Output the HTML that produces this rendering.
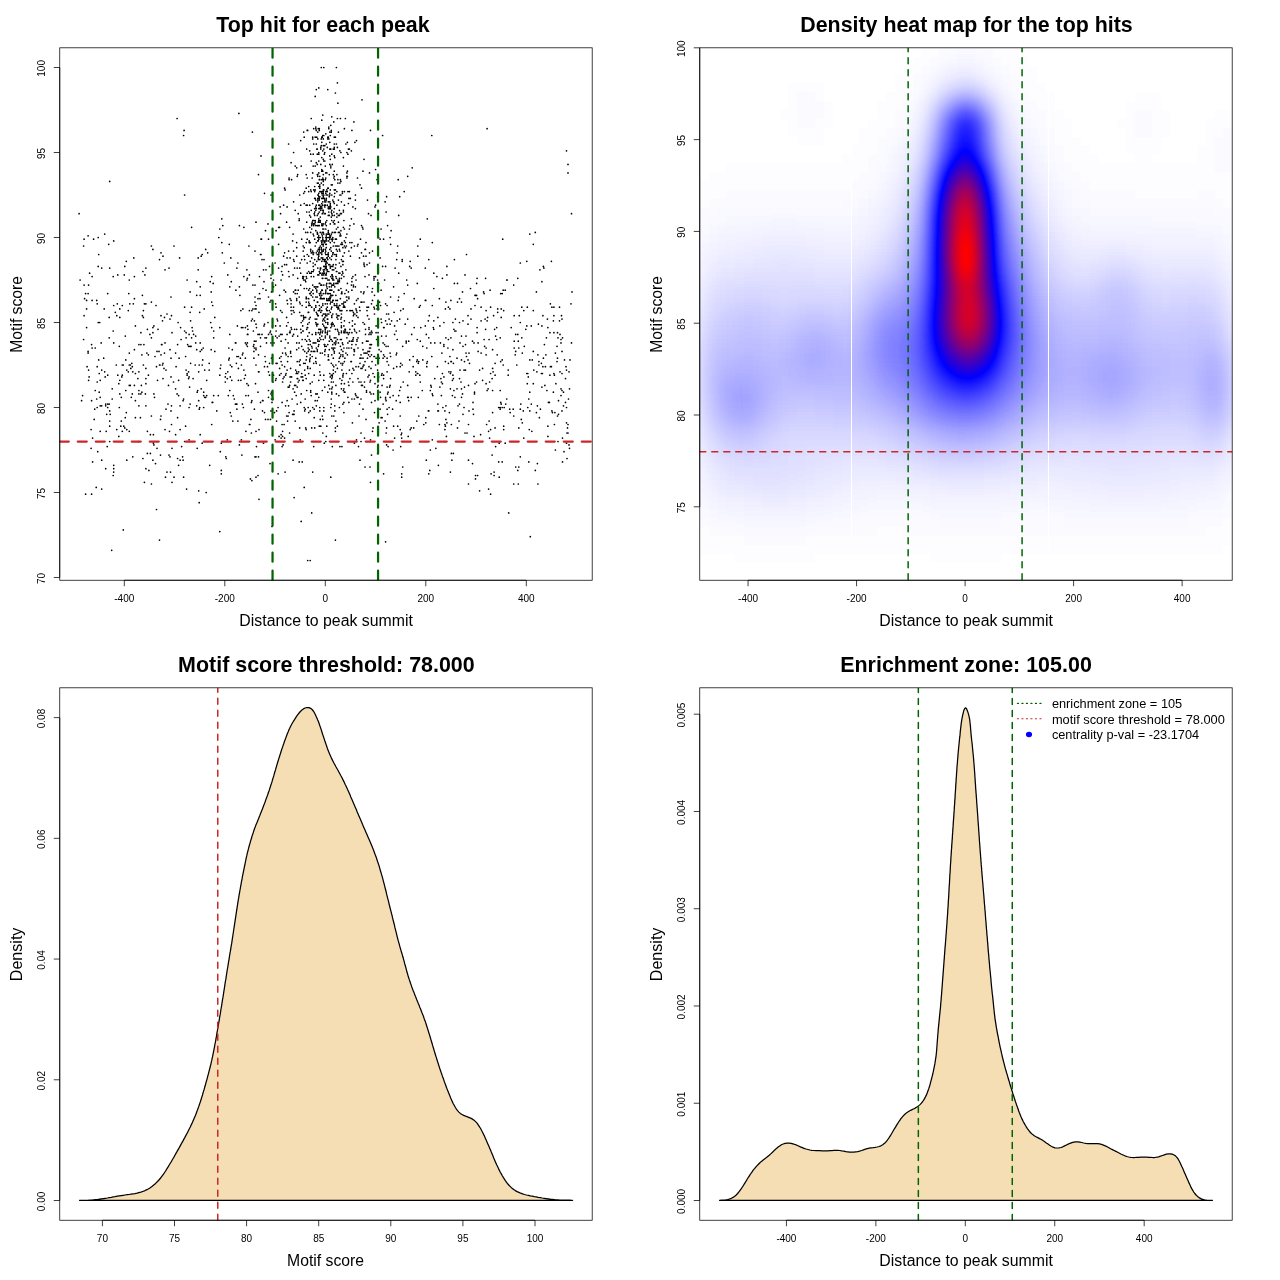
<!DOCTYPE html>
<html><head><meta charset="utf-8"><title>Motif enrichment plots</title>
<style>html,body{margin:0;padding:0;background:#fff}svg{display:block}text{font-family:"Liberation Sans",Arial,Helvetica,sans-serif;fill:#000}.t{font-size:21.4px;font-weight:bold;text-anchor:middle}.l{font-size:15.8px;text-anchor:middle}.k{font-size:10px;text-anchor:middle}.g{font-size:12.8px}.b{fill:none;stroke:#000;stroke-width:.75}.gd{fill:none;stroke:#006400;stroke-width:1.5;stroke-dasharray:6 6;stroke-linecap:round}.rd{fill:none;stroke:#CD2626;stroke-width:1.5;stroke-dasharray:6 6;stroke-linecap:round}.gD{fill:none;stroke:#006400;stroke-width:2.25;stroke-dasharray:9 9;stroke-linecap:round}.rD{fill:none;stroke:#CD2626;stroke-width:2.25;stroke-dasharray:9 9;stroke-linecap:round}.w{fill:#F5DEB3;stroke:none}.c{fill:none;stroke:#000;stroke-width:1.25;stroke-linejoin:round}</style></head><body>
<svg width="1280" height="1280" viewBox="0 0 1280 1280">
<rect width="1280" height="1280" fill="#fff"/>
<g clip-path="url(#hc)">
<path d="M145.9 405.8h0M443.9 322.5h0M308.7 298.7h0M498.7 461.9h0M396.2 400.7h0M360 184.8h0M91.1 429.6h0M285.6 405.8h0M321.8 169.5h0M309.7 293.6h0M203.2 348h0M315.2 319.1h0M378.6 283.4h0M310.2 368.4h0M531.3 404.1h0M229.3 244.3h0M187.1 280h0M327.3 319.1h0M313.2 234.1h0M249.4 310.6h0M334.3 137.2h0M390.1 385.4h0M367 310.6h0M531.3 325.9h0M253.9 351.4h0M461.5 302.1h0M121.8 376.9h0M261.5 239.2h0M280.6 213.7h0M171.5 405.8h0M525.8 329.3h0M362 368.4h0M439.4 424.5h0M329.8 201.8h0M325.3 336.1h0M375 400.7h0M332.8 280h0M289.6 385.4h0M314.7 198.4h0M331.3 382h0M255 456.8h0M168.5 385.4h0M285.6 353.1h0M245.4 327.6h0M329.3 196.7h0M338.9 273.2h0M328.3 354.8h0M477.6 475.5h0M418.3 397.3h0M322.8 115.1h0M147.4 329.3h0M332.3 274.9h0M300.2 439.8h0M520.3 456.8h0M353.9 223.9h0M317.8 302.1h0M372 361.6h0M422.8 359.9h0M295.2 421.1h0M474.5 393.9h0M209.7 465.3h0M317.3 225.6h0M433.8 329.3h0M502.2 407.5h0M342.4 261.3h0M297.2 387.1h0M153.4 434.7h0M425.3 300.4h0M328.3 201.8h0M472.5 463.6h0M335.4 239.2h0M341.4 388.8h0M270.5 419.4h0M401.7 473.8h0M375.6 365h0M335.9 264.7h0M210.7 322.5h0M326.8 220.5h0M333.3 382h0M328.3 359.9h0M188.6 371.8h0M327.8 138.9h0M258.5 174.6h0M361 354.8h0M258 334.4h0M309.7 359.9h0M133.8 257.9h0M564 451.7h0M106.2 431.3h0M310.2 341.2h0M305.2 375.2h0M334.8 223.9h0M304.7 259.6h0M357 312.3h0M333.8 283.4h0M369 274.9h0M330.8 247.7h0M331.3 184.8h0M96.7 399h0M502.2 293.6h0M549.4 402.4h0M152.9 332.7h0M335.4 246h0M317.8 201.8h0M318.3 254.5h0M371.5 455.1h0M562 351.4h0M248.4 395.6h0M315.2 96.4h0M91.6 400.7h0M269.5 375.2h0M368 351.4h0M446.4 436.4h0M341.4 213.7h0M330.3 290.2h0M411.2 397.3h0M363 322.5h0M326.8 426.2h0M346.4 297h0M339.9 378.6h0M220.3 451.7h0M310.2 410.9h0M533.3 310.6h0M338.9 290.2h0M376.1 358.2h0M340.9 288.5h0M157 351.4h0M334.8 405.8h0M328.8 359.9h0M296.7 342.9h0M329.8 193.3h0M334.8 410.9h0M352.4 422.8h0M377.1 308.9h0M313.2 154.2h0M377.6 196.7h0M288.6 271.5h0M467 433h0M502.7 239.2h0M311.2 276.6h0M81.6 400.7h0M349.9 329.3h0M202.2 443.2h0M84.1 239.2h0M313.2 266.4h0M329.8 239.2h0M327.3 254.5h0M295.7 370.1h0M321.8 244.3h0M549.9 375.2h0M520.8 404.1h0M370.5 344.6h0M349.4 322.5h0M426.8 366.7h0M477.6 298.7h0M324.3 298.7h0M378.6 376.9h0M320.8 293.6h0M369.5 351.4h0M520.3 263h0M299.7 365h0M318.3 240.9h0M357 339.5h0M349.9 310.6h0M332.8 280h0M286.6 317.4h0M138.9 371.8h0M304.2 137.2h0M135.4 417.7h0M383.1 358.2h0M251.9 310.6h0M502.2 461.9h0M528.8 399h0M322.8 240.9h0M303.2 246h0M338.4 290.2h0M319.3 198.4h0M331.8 256.2h0M316.3 363.3h0M433.8 288.5h0M342.9 354.8h0M329.8 257.9h0M140.9 344.6h0M361 399h0M320.8 210.3h0M326.3 274.9h0M335.9 259.6h0M331.3 308.9h0M83.6 246h0M341.4 332.7h0M315.8 307.2h0M281.1 434.7h0M503.7 310.6h0M340.9 235.8h0M198.2 269.8h0M314.7 239.2h0M325.8 322.5h0M330.3 208.6h0M558.5 414.3h0M311.2 210.3h0M316.3 348h0M489.1 421.1h0M475 295.3h0M325.3 331h0M292.6 336.1h0M318.8 220.5h0M505.7 404.1h0M332.8 295.3h0M331.3 339.5h0M326.8 315.7h0M459.5 322.5h0M190.1 404.1h0M323.3 319.1h0M336.9 217.1h0M355.4 393.9h0M537.9 484h0M122.3 431.3h0M158 329.3h0M329.8 142.3h0M569.5 448.3h0M344.4 128.7h0M325.8 314h0M314.2 409.2h0M191.6 337.8h0M145.9 383.7h0M326.3 268.1h0M259 312.3h0M123.3 365h0M442.4 373.5h0M398.7 215.4h0M333.3 252.8h0M268.5 334.4h0M332.3 341.2h0M324.3 261.3h0M323.3 145.7h0M445.4 426.2h0M358 397.3h0M296.7 349.7h0M481.1 320.8h0M259 429.6h0M558 441.5h0M476.6 382h0M246.4 344.6h0M343.4 261.3h0M329.8 297h0M152.9 460.2h0M256.5 446.6h0M213.7 331h0M386.1 212h0M321.8 191.6h0M354.4 349.7h0M316.3 205.2h0M317.3 183.1h0M352.9 341.2h0M454.4 259.6h0M363 349.7h0M385.6 399h0M339.9 305.5h0M379.1 422.8h0M454.4 283.4h0M329.3 237.5h0M325.8 191.6h0M343.9 332.7h0M523.3 410.9h0M326.3 198.4h0M340.9 213.7h0M316.8 149.1h0M291.1 300.4h0M333.3 280h0M351.4 348h0M322.3 390.5h0M332.8 365h0M330.3 266.4h0M387.1 358.2h0M341.9 274.9h0M277.6 320.8h0M376.1 332.7h0M317.3 149.1h0M441.4 395.6h0M316.3 324.2h0M407.7 397.3h0M325.8 178h0M333.3 324.2h0M342.9 356.5h0M153.9 393.9h0M296.7 300.4h0M383.1 342.9h0M498.7 407.5h0M567 458.5h0M443.9 344.6h0M354.4 303.8h0M303.7 317.4h0M338.4 200.1h0M318.8 193.3h0M289.1 178h0M326.8 240.9h0M272.5 325.9h0M487.6 317.4h0M334.3 342.9h0M434.8 342.9h0M430.3 450h0M318.3 240.9h0M332.3 375.2h0M183.1 460.2h0M453.9 329.3h0M282.1 266.4h0M259.5 334.4h0M333.3 349.7h0M213.2 283.4h0M228.3 395.6h0M468.5 484h0M92.1 300.4h0M367.5 315.7h0M332.3 215.4h0M397.2 339.5h0M333.3 246h0M383.6 473.8h0M92.6 461.9h0M450.9 300.4h0M452.4 380.3h0M568 433h0M566.5 407.5h0M447.9 348h0M258.5 354.8h0M191.6 307.2h0M318.8 205.2h0M379.1 349.7h0M366.5 390.5h0M97.2 303.8h0M508.7 512.9h0M143.9 344.6h0M409.7 359.9h0M308.2 344.6h0M499.2 443.2h0M400.7 310.6h0M341.9 293.6h0M327.3 257.9h0M318.8 161h0M313.2 351.4h0M353.4 285.1h0M515.7 334.4h0M225.3 382h0M336.9 205.2h0M402.2 259.6h0M336.9 174.6h0M317.3 232.4h0M313.7 189.9h0M105.7 405.8h0M499.2 477.2h0M464.5 387.1h0M305.2 339.5h0M117.8 274.9h0M327.3 334.4h0M337.9 319.1h0M332.8 254.5h0M116.8 429.6h0M322.3 278.3h0M569 444.9h0M495.1 375.2h0M385.6 266.4h0M302.7 276.6h0M329.3 341.2h0M503.2 365h0M340.9 230.7h0M290.6 368.4h0M226.3 458.5h0M383.6 375.2h0M105.7 468.7h0M378.6 237.5h0M520.3 409.2h0M321.8 142.3h0M533.3 383.7h0M299.2 361.6h0M571 303.8h0M351.4 361.6h0M311.7 346.3h0M106.7 414.3h0M335.4 344.6h0M438.4 465.3h0M323.8 380.3h0M329.8 195h0M176.1 366.7h0M465.5 370.1h0M332.8 278.3h0M287.1 206.9h0M131.8 363.3h0M119.3 346.3h0M330.3 268.1h0M390.6 244.3h0M200.2 295.3h0M474.5 392.2h0M138.9 390.5h0M260.5 254.5h0M313.7 269.8h0M333.8 201.8h0M319.3 247.7h0M319.8 337.8h0M105.7 404.1h0M304.2 203.5h0M319.8 273.2h0M376.6 305.5h0M134.4 276.6h0M177.6 344.6h0M88.1 353.1h0M343.9 305.5h0M425.3 325.9h0M333.8 269.8h0M377.1 179.7h0M312.2 222.2h0M310.2 344.6h0M334.8 348h0M323.3 184.8h0M266.5 342.9h0M332.3 240.9h0M250.9 419.4h0M113.2 331h0M547.4 319.1h0M325.8 237.5h0M331.8 210.3h0M331.3 399h0M335.9 295.3h0M320.8 291.9h0M273 399h0M191.6 227.3h0M356.5 310.6h0M261 155.9h0M562 390.5h0M161 315.7h0M333.3 358.2h0M327.3 288.5h0M299.2 297h0M327.8 319.1h0M379.1 358.2h0M322.8 320.8h0M331.8 348h0M312.7 203.5h0M291.6 329.3h0M511.2 327.6h0M227.8 371.8h0M343.4 373.5h0M317.3 164.4h0M300.2 359.9h0M318.3 213.7h0M314.2 300.4h0M328.3 137.2h0M311.2 395.6h0M317.3 174.6h0M372.5 251.1h0M343.4 307.2h0M332.3 269.8h0M409.7 266.4h0M351.9 332.7h0M295.7 290.2h0M163 378.6h0M145.9 468.7h0M247.4 278.3h0M420.8 327.6h0M323.3 196.7h0M536.9 371.8h0M326.3 234.1h0M317.8 132.1h0M315.8 200.1h0M347.9 154.2h0M357 397.3h0M356 395.6h0M137.9 378.6h0M256 349.7h0M319.8 410.9h0M183.6 399h0M113.7 472.1h0M340.9 181.4h0M232.3 349.7h0M484.1 293.6h0M320.8 331h0M322.8 259.6h0M383.6 239.2h0M443.9 346.3h0M317.3 314h0M314.2 417.7h0M396.7 366.7h0M275.6 380.3h0M365 361.6h0M360 358.2h0M336.9 305.5h0M370 356.5h0M557.5 358.2h0M325.8 229h0M370.5 482.3h0M294.1 497.6h0M281.1 438.1h0M329.3 215.4h0M235.9 290.2h0M364 264.7h0M323.8 161h0M364.5 382h0M284.6 188.2h0M122.3 375.2h0M304.7 317.4h0M442.4 278.3h0M113.7 240.9h0M452.9 375.2h0M237.4 325.9h0M358.5 446.6h0M116.3 365h0M335.4 137.2h0M318.8 196.7h0M334.3 303.8h0M338.9 246h0M323.3 198.4h0M340.4 356.5h0M327.8 137.2h0M356.5 332.7h0M347.9 397.3h0M353.4 315.7h0M271 300.4h0M446.9 274.9h0M281.1 280h0M393.1 450h0M503.2 290.2h0M328.3 188.2h0M129.3 280h0M300.7 140.6h0M316.8 319.1h0M345.9 237.5h0M272 402.4h0M325.8 201.8h0M282.1 334.4h0M322.8 210.3h0M245.4 358.2h0M344.9 293.6h0M256 222.2h0M169 268.1h0M88.1 293.6h0M321.3 145.7h0M121.3 421.1h0M331.8 416h0M326.8 310.6h0M332.3 164.4h0M374 276.6h0M445.4 361.6h0M473.5 414.3h0M349.4 332.7h0M331.8 325.9h0M180.6 327.6h0M475.5 295.3h0M145.9 368.4h0M321.8 208.6h0M159.5 365h0M387.6 414.3h0M365.5 353.1h0M337.9 179.7h0M380.6 397.3h0M393.6 368.4h0M319.8 184.8h0M339.4 353.1h0M313.2 223.9h0M332.3 446.6h0M327.3 205.2h0M284.1 376.9h0M125.8 390.5h0M314.7 259.6h0M351.9 130.4h0M323.3 159.3h0M201.2 256.2h0M311.2 191.6h0M329.8 132.1h0M340.9 310.6h0M135.4 400.7h0M333.3 222.2h0M313.2 342.9h0M228.8 359.9h0M162.5 320.8h0M241.9 455.1h0M167 472.1h0M560 371.8h0M328.3 300.4h0M326.8 257.9h0M311.2 161h0M327.8 234.1h0M297.7 174.6h0M329.8 290.2h0M364 263h0M308.7 302.1h0M249.9 424.5h0M150.4 434.7h0M325.8 254.5h0M295.7 385.4h0M322.8 244.3h0M335.4 329.3h0M206.2 492.5h0M378.6 308.9h0M140.9 332.7h0M124.8 427.9h0M335.4 371.8h0M315.8 361.6h0M282.6 353.1h0M313.7 269.8h0M561 395.6h0M172 332.7h0M171 297h0M322.8 171.2h0M294.1 410.9h0M397.7 426.2h0M450.4 388.8h0M88.6 380.3h0M218.3 395.6h0M413.7 427.9h0M310.2 383.7h0M303.2 380.3h0M323.8 325.9h0M314.2 286.8h0M329.3 349.7h0M138.9 393.9h0M445.9 419.4h0M450.9 371.8h0M336.4 393.9h0M341.4 325.9h0M571.5 213.7h0M411.2 268.1h0M328.8 385.4h0M492.1 455.1h0M129.3 431.3h0M247.4 334.4h0M325.3 349.7h0M259.5 276.6h0M568 424.5h0M373 373.5h0M343.9 276.6h0M344.4 307.2h0M119.8 317.4h0M317.8 198.4h0M109.7 410.9h0M289.1 387.1h0M311.7 307.2h0M306.2 307.2h0M322.3 137.2h0M312.7 138.9h0M306.2 302.1h0M313.2 254.5h0M339.9 273.2h0M563.5 405.8h0M321.8 298.7h0M287.6 361.6h0M515.7 351.4h0M154.5 397.3h0M186.6 489.1h0M334.3 220.5h0M98.2 266.4h0M163 256.2h0M129.3 365h0M561 339.5h0M294.6 392.2h0M320.3 298.7h0M318.3 225.6h0M296.7 247.7h0M291.6 179.7h0M319.8 371.8h0M319.3 271.5h0M442.9 407.5h0M328.8 314h0M289.1 412.6h0M115.3 312.3h0M294.1 312.3h0M320.3 353.1h0M396.7 353.1h0M101.7 268.1h0M341.4 325.9h0M408.7 341.2h0M536.4 412.6h0M284.6 366.7h0M306.7 222.2h0M316.3 144h0M348.9 348h0M368.5 213.7h0M331.3 212h0M370 382h0M238.4 368.4h0M324.3 273.2h0M297.2 361.6h0M291.1 162.7h0M353.9 349.7h0M307.2 263h0M320.3 269.8h0M97.2 382h0M334.3 215.4h0M238.4 356.5h0M274.5 412.6h0M354.4 443.2h0M192.6 331h0M572 291.9h0M508.2 370.1h0M387.6 225.6h0M304.7 370.1h0M315.2 222.2h0M256 456.8h0M415.8 371.8h0M385.6 397.3h0M338.9 332.7h0M522.3 353.1h0M274 342.9h0M312.7 220.5h0M287.6 303.8h0M439.4 298.7h0M356 344.6h0M318.3 237.5h0M254.4 320.8h0M428.8 259.6h0M308.7 191.6h0M398.7 297h0M189.1 334.4h0M493.1 371.8h0M323.3 193.3h0M321.8 252.8h0M325.3 240.9h0M157.5 380.3h0M293.6 334.4h0M315.8 206.9h0M331.3 375.2h0M330.8 235.8h0M388.6 314h0M420.3 382h0M518.8 348h0M457.5 427.9h0M329.3 280h0M333.3 264.7h0M101.7 460.2h0M418.3 363.3h0M293.6 251.1h0M129.3 385.4h0M336.4 314h0M360.5 239.2h0M481.1 307.2h0M513.2 409.2h0M326.8 195h0M198.2 257.9h0M293.6 307.2h0M374 356.5h0M336.9 303.8h0M465.5 344.6h0M166 409.2h0M500.2 409.2h0M313.7 446.6h0M317.3 393.9h0M320.3 375.2h0M316.8 290.2h0M309.2 303.8h0M361 302.1h0M322.3 232.4h0M521.3 419.4h0M332.8 344.6h0M393.6 426.2h0M213.7 337.8h0M337.4 426.2h0M386.1 433h0M110.2 414.3h0M351.9 344.6h0M207.7 252.8h0M264.5 366.7h0M304.7 259.6h0M440.9 378.6h0M551.4 366.7h0M324.8 327.6h0M299.7 427.9h0M370 332.7h0M371.5 303.8h0M535.3 232.4h0M92.6 438.1h0M328.8 240.9h0M448.4 307.2h0M145.9 303.8h0M566.5 443.2h0M316.3 208.6h0M371 368.4h0M394.1 312.3h0M386.6 314h0M339.9 195h0M306.7 298.7h0M315.8 127h0M358 378.6h0M347.4 283.4h0M420.3 305.5h0M340.9 319.1h0M271.5 291.9h0M314.2 310.6h0M242.4 354.8h0M315.8 288.5h0M486.6 424.5h0M316.8 325.9h0M270.5 331h0M555.9 383.7h0M344.9 307.2h0M80.1 280h0M308.2 407.5h0M236.4 363.3h0M175.6 434.7h0M346.9 300.4h0M282.1 424.5h0M244.4 378.6h0M341.4 332.7h0M184.6 331h0M225.8 456.8h0M347.4 171.2h0M283.1 378.6h0M330.8 297h0M238.4 380.3h0M327.3 300.4h0M214.8 351.4h0M532.3 359.9h0M414.2 327.6h0M255 302.1h0M398.2 300.4h0M282.6 274.9h0M333.3 370.1h0M94.2 419.4h0M329.8 373.5h0M543.4 358.2h0M255 297h0M340.4 339.5h0M98.7 359.9h0M381.1 417.7h0M337.4 300.4h0M264.5 412.6h0M143.4 317.4h0M271 274.9h0M327.3 293.6h0M408.2 397.3h0M334.3 351.4h0M407.7 176.3h0M459 421.1h0M326.8 278.3h0M280.6 334.4h0M142.4 295.3h0M200.2 342.9h0M189.1 407.5h0M471 308.9h0M91.6 494.2h0M314.7 215.4h0M317.8 240.9h0M369.5 348h0M341.4 314h0M317.8 315.7h0M315.2 137.2h0M435.9 448.3h0M277.1 363.3h0M368 341.2h0M397.7 246h0M300.2 263h0M353.4 337.8h0M144.4 482.3h0M317.8 286.8h0M357 341.2h0M444.9 410.9h0M348.4 291.9h0M289.6 332.7h0M309.7 361.6h0M349.4 370.1h0M331.8 317.4h0M415.8 375.2h0M165 342.9h0M323.3 174.6h0M280.1 325.9h0M333.3 373.5h0M336.9 317.4h0M310.7 189.9h0M338.4 215.4h0M303.2 278.3h0M326.3 200.1h0M363.5 256.2h0M351.9 278.3h0M279.1 336.1h0M558.5 400.7h0M326.3 263h0M284.1 290.2h0M323.8 149.1h0M253.9 358.2h0M323.3 210.3h0M403.2 382h0M321.8 171.2h0M337.4 118.5h0M239.4 444.9h0M367.5 358.2h0M337.9 103.2h0M334.3 149.1h0M246.9 280h0M235.4 404.1h0M490.6 494.2h0M554.4 375.2h0M326.8 172.9h0M332.8 239.2h0M297.7 336.1h0M336.4 254.5h0M324.3 198.4h0M340.9 363.3h0M343.4 212h0M365.5 370.1h0M236.9 356.5h0M181.6 446.6h0M454.9 397.3h0M318.3 310.6h0M518.8 467h0M357 312.3h0M301.2 393.9h0M322.8 257.9h0M100.2 405.8h0M118.8 383.7h0M341.9 370.1h0M343.4 303.8h0M322.8 237.5h0M308.7 256.2h0M264 259.6h0M92.1 276.6h0M320.8 312.3h0M515.2 354.8h0M563.5 392.2h0M309.7 215.4h0M83.6 339.5h0M355.4 286.8h0M256 431.3h0M211.2 349.7h0M161 416h0M308.2 351.4h0M339.4 263h0M383.6 354.8h0M211.7 276.6h0M119.3 407.5h0M161.5 344.6h0M181.1 339.5h0M170 319.1h0M145.9 378.6h0M433.8 273.2h0M355.4 208.6h0M318.8 235.8h0M142.9 458.5h0M327.8 324.2h0M164.5 353.1h0M308.7 305.5h0M468.5 424.5h0M275.1 263h0M489.1 339.5h0M318.8 172.9h0M312.7 472.1h0M109.2 337.8h0M307.7 324.2h0M323.8 229h0M350.4 256.2h0M268.5 390.5h0M338.9 361.6h0M294.1 261.3h0M277.1 337.8h0M448.9 371.8h0M339.9 183.1h0M313.7 223.9h0M324.8 351.4h0M280.6 310.6h0M318.3 183.1h0M312.2 382h0M326.3 195h0M324.8 206.9h0M328.8 264.7h0M352.9 276.6h0M330.8 276.6h0M330.3 312.3h0M336.9 303.8h0M364.5 387.1h0M497.7 308.9h0M327.8 280h0M256 324.2h0M332.8 278.3h0M455.9 331h0M318.8 239.2h0M332.8 266.4h0M276.6 421.1h0M312.7 251.1h0M358.5 366.7h0M249.4 424.5h0M387.1 409.2h0M344.9 358.2h0M116.8 315.7h0M306.7 356.5h0M335.9 385.4h0M310.7 251.1h0M370.5 348h0M333.8 212h0M279.6 375.2h0M321.8 274.9h0M381.1 351.4h0M338.4 222.2h0M239.4 286.8h0M325.3 278.3h0M265.5 419.4h0M380.1 257.9h0M304.7 351.4h0M410.2 261.3h0M334.3 223.9h0M540.4 409.2h0M330.8 477.2h0M261 254.5h0M349.4 149.1h0M355.4 200.1h0M229.8 334.4h0M243.9 227.3h0M370 467h0M523.8 438.1h0M327.3 303.8h0M318.3 315.7h0M265.5 230.7h0M453.4 378.6h0M318.8 329.3h0M370.5 130.4h0M541.4 363.3h0M317.8 341.2h0M268.5 297h0M321.8 120.2h0M306.7 390.5h0M331.8 274.9h0M337.4 339.5h0M561 342.9h0M562 373.5h0M365.5 329.3h0M334.3 305.5h0M544.4 344.6h0M344.4 320.8h0M325.8 290.2h0M315.2 220.5h0M356 308.9h0M402.7 346.3h0M343.4 157.6h0M462.5 393.9h0M341.9 446.6h0M318.3 195h0M204.7 370.1h0M271.5 399h0M187.6 344.6h0M545.9 354.8h0M311.2 351.4h0M299.2 220.5h0M300.2 365h0M537.4 405.8h0M273 382h0M296.7 167.8h0M307.7 336.1h0M196.7 349.7h0M365 249.4h0M334.8 179.7h0M277.1 319.1h0M339.9 235.8h0M88.6 370.1h0M481.1 353.1h0M380.6 305.5h0M225.3 376.9h0M307.7 368.4h0M175.6 388.8h0M387.1 371.8h0M319.3 225.6h0M324.8 242.6h0M171 410.9h0M364 353.1h0M382.6 266.4h0M310.7 217.1h0M338.4 308.9h0M329.8 264.7h0M290.1 376.9h0M342.9 247.7h0M305.7 232.4h0M366.5 341.2h0M171 376.9h0M258.5 456.8h0M325.8 291.9h0M483.6 291.9h0M301.2 521.4h0M324.8 317.4h0M357.5 178h0M562.5 461.9h0M459.5 404.1h0M364.5 438.1h0M287.1 334.4h0M138.9 344.6h0M336.9 213.7h0M401.7 433h0M141.4 385.4h0M333.8 178h0M285.1 472.1h0M268.5 371.8h0M247.4 342.9h0M219.8 531.6h0M550.4 366.7h0M328.8 298.7h0M311.2 295.3h0M315.8 297h0M393.6 286.8h0M279.6 295.3h0M160.5 455.1h0M326.3 285.1h0M385.6 303.8h0M352.9 382h0M266.5 337.8h0M301.2 376.9h0M314.2 213.7h0M482.6 368.4h0M233.3 395.6h0M366 242.6h0M334.8 254.5h0M320.3 220.5h0M306.7 278.3h0M496.7 339.5h0M547.9 327.6h0M523.8 310.6h0M329.8 300.4h0M346.9 172.9h0M166 370.1h0M255 251.1h0M494.1 475.5h0M343.9 388.8h0M325.8 172.9h0M225.8 373.5h0M309.2 319.1h0M344.4 191.6h0M323.8 285.1h0M331.3 324.2h0M323.8 271.5h0M328.8 138.9h0M306.2 174.6h0M197.7 390.5h0M251.4 402.4h0M122.3 365h0M198.7 400.7h0M311.2 252.8h0M279.6 227.3h0M300.7 402.4h0M503.7 429.6h0M339.4 358.2h0M436.9 276.6h0M323.3 251.1h0M247.9 329.3h0M505.2 290.2h0M315.2 189.9h0M320.3 208.6h0M562 410.9h0M320.3 268.1h0M336.4 249.4h0M386.6 196.7h0M151.4 337.8h0M131.3 397.3h0M369 327.6h0M285.1 348h0M200.2 342.9h0M307.2 239.2h0M84.1 285.1h0M351.9 278.3h0M255 285.1h0M348.9 402.4h0M489.6 438.1h0M288.1 342.9h0M338.4 222.2h0M326.8 286.8h0M340.9 244.3h0M319.3 293.6h0M315.2 246h0M331.8 116.8h0M320.8 268.1h0M331.3 217.1h0M334.3 144h0M551.4 261.3h0M322.3 235.8h0M319.3 426.2h0M147.4 453.4h0M314.7 186.5h0M302.7 376.9h0M265.5 361.6h0M297.2 404.1h0M298.2 290.2h0M293.1 460.2h0M321.3 240.9h0M305.2 363.3h0M327.8 259.6h0M264.5 193.3h0M325.3 274.9h0M428.8 337.8h0M363.5 293.6h0M299.2 218.8h0M145.9 268.1h0M296.2 373.5h0M198.7 490.8h0M314.7 208.6h0M330.3 293.6h0M401.2 434.7h0M319.8 310.6h0M330.8 302.1h0M402.2 365h0M352.9 206.9h0M374.5 376.9h0M565.5 402.4h0M416.8 361.6h0M310.2 354.8h0M320.8 206.9h0M407.7 285.1h0M473 409.2h0M195.7 342.9h0M400.2 416h0M246.9 269.8h0M221.8 218.8h0M320.3 419.4h0M520.3 322.5h0M285.6 375.2h0M369 366.7h0M230.8 257.9h0M356.5 140.6h0M492.6 368.4h0M308.2 312.3h0M500.7 361.6h0M200.2 434.7h0M323.8 298.7h0M568.5 399h0M124.3 274.9h0M290.1 257.9h0M400.2 402.4h0M332.8 300.4h0M246.9 383.7h0M222.3 252.8h0M437.4 366.7h0M317.8 274.9h0M316.8 286.8h0M339.4 305.5h0M348.4 382h0M309.7 227.3h0M314.7 351.4h0M325.8 251.1h0M477.1 327.6h0M344.9 332.7h0M299.7 268.1h0M368.5 354.8h0M284.6 252.8h0M290.1 332.7h0M526.8 261.3h0M342.9 273.2h0M369.5 172.9h0M514.2 341.2h0M367 353.1h0M353.9 121.9h0M562 319.1h0M186.1 337.8h0M308.7 271.5h0M135.4 373.5h0M324.8 161h0M318.8 256.2h0M331.3 286.8h0M335.9 365h0M330.3 237.5h0M334.3 189.9h0M341.9 244.3h0M325.8 193.3h0M160.5 419.4h0M262 259.6h0M339.4 215.4h0M135.4 325.9h0M547.9 426.2h0M308.2 312.3h0M117.8 375.2h0M132.8 456.8h0M340.4 179.7h0M336.4 229h0M295.2 290.2h0M321.3 257.9h0M305.2 280h0M320.8 329.3h0M392.6 409.2h0M195.2 365h0M352.4 320.8h0M334.3 303.8h0M426.8 363.3h0M504.2 407.5h0M486.1 354.8h0M492.6 390.5h0M337.9 183.1h0M119.8 380.3h0M235.4 342.9h0M282.1 312.3h0M297.7 373.5h0M309.2 322.5h0M339.9 310.6h0M153.4 443.2h0M363 171.2h0M354.9 314h0M287.1 400.7h0M323.8 135.5h0M145.4 393.9h0M342.9 264.7h0M394.6 325.9h0M132.8 371.8h0M318.3 346.3h0M343.9 325.9h0M308.2 348h0M369 375.2h0M417.3 339.5h0M247.9 334.4h0M144.9 274.9h0M377.6 387.1h0M339.9 446.6h0M278.6 227.3h0M372.5 431.3h0M364 291.9h0M240.9 310.6h0M354.9 142.3h0M331.8 388.8h0M319.8 205.2h0M316.3 405.8h0M371 393.9h0M312.7 285.1h0M398.7 395.6h0M270 302.1h0M406.7 280h0M330.8 407.5h0M325.8 244.3h0M346.9 337.8h0M339.9 150.8h0M518.3 484h0M320.8 426.2h0M128.8 293.6h0M104.7 371.8h0M254.4 341.2h0M323.8 195h0M146.9 353.1h0M109.7 441.5h0M473 402.4h0M86.6 308.9h0M318.3 249.4h0M202.2 254.5h0M326.3 327.6h0M368 376.9h0M138.9 405.8h0M299.2 380.3h0M130.3 385.4h0M184.6 195h0M420.3 341.2h0M428.3 410.9h0M381.1 290.2h0M371.5 331h0M126.8 460.2h0M316.8 137.2h0M322.3 171.2h0M409.2 371.8h0M363 229h0M327.8 331h0M337.9 280h0M300.7 285.1h0M325.8 263h0M369 334.4h0M315.2 400.7h0M326.3 239.2h0M365.5 334.4h0M517.8 334.4h0M318.8 254.5h0M335.9 276.6h0M331.3 130.4h0M318.8 344.6h0M308.7 290.2h0M554.4 424.5h0M510.2 412.6h0M382.1 373.5h0M97.2 366.7h0M320.3 332.7h0M188.6 378.6h0M398.2 179.7h0M275.6 336.1h0M386.1 346.3h0M321.8 198.4h0M334.3 242.6h0M322.8 251.1h0M304.7 191.6h0M316.8 261.3h0M281.1 361.6h0M334.8 157.6h0M537.4 463.6h0M385.1 201.8h0M260.5 337.8h0M286.1 354.8h0M433.3 327.6h0M460 342.9h0M320.3 217.1h0M380.1 239.2h0M179.6 257.9h0M390.6 378.6h0M348.4 334.4h0M305.7 427.9h0M318.3 259.6h0M91.1 448.3h0M314.2 342.9h0M234.3 399h0M319.3 220.5h0M326.8 189.9h0M256 365h0M319.3 212h0M388.1 392.2h0M109.7 268.1h0M187.1 373.5h0M309.2 332.7h0M346.9 297h0M555.4 353.1h0M400.7 387.1h0M317.3 302.1h0M316.3 242.6h0M340.4 118.5h0M310.2 358.2h0M138.9 371.8h0M495.1 427.9h0M407.7 385.4h0M155.5 463.6h0M99.2 373.5h0M325.8 264.7h0M271 410.9h0M229.8 286.8h0M538.9 365h0M193.1 378.6h0M526.8 325.9h0M271.5 334.4h0M327.3 332.7h0M551.9 410.9h0M276.1 307.2h0M322.3 198.4h0M304.2 487.4h0M171.5 424.5h0M211.7 302.1h0M529.8 359.9h0M281.1 373.5h0M307.2 130.4h0M350.9 361.6h0M319.8 188.2h0M331.8 295.3h0M468.5 460.2h0M209.2 370.1h0M373 427.9h0M353.9 314h0M317.8 195h0M361 441.5h0M299.2 461.9h0M180.1 460.2h0M164 368.4h0M452.4 395.6h0M333.3 149.1h0M321.3 249.4h0M317.8 176.3h0M300.2 303.8h0M310.7 232.4h0M332.3 269.8h0M342.4 365h0M252.9 285.1h0M241.4 365h0M337.4 329.3h0M328.3 232.4h0M100.2 380.3h0M197.2 392.2h0M313.2 220.5h0M325.3 329.3h0M99.2 392.2h0M461.5 359.9h0M156.5 366.7h0M333.3 201.8h0M341.4 327.6h0M306.2 188.2h0M307.7 327.6h0M319.8 176.3h0M347.9 191.6h0M336.9 307.2h0M336.9 246h0M545.4 366.7h0M323.8 410.9h0M348.9 298.7h0M370.5 439.8h0M86.6 327.6h0M107.7 293.6h0M397.2 252.8h0M341.4 201.8h0M362.5 385.4h0M328.3 215.4h0M327.8 322.5h0M323.3 293.6h0M306.7 329.3h0M318.3 222.2h0M342.9 363.3h0M101.7 489.1h0M219.8 229h0M336.4 283.4h0M425.3 268.1h0M243.4 407.5h0M544.9 385.4h0M404.2 293.6h0M287.1 257.9h0M329.8 283.4h0M329.8 300.4h0M326.3 285.1h0M386.1 400.7h0M557.5 332.7h0M281.1 356.5h0M310.2 261.3h0M214.8 317.4h0M326.3 266.4h0M307.2 273.2h0M319.8 196.7h0M318.8 218.8h0M184.6 441.5h0M337.9 281.7h0M358 348h0M231.3 416h0M302.7 325.9h0M314.7 223.9h0M351.9 242.6h0M294.1 414.3h0M294.6 385.4h0M309.7 273.2h0M330.8 149.1h0M120.8 426.2h0M237.9 421.1h0M320.8 273.2h0M321.8 295.3h0M88.1 235.8h0M439.9 387.1h0M288.1 322.5h0M344.4 240.9h0M388.1 346.3h0M440.4 342.9h0M182.6 456.8h0M292.6 240.9h0M325.3 332.7h0M260.5 346.3h0M333.8 285.1h0M326.8 220.5h0M338.4 215.4h0M497.2 354.8h0M306.2 297h0M310.2 344.6h0M313.7 225.6h0M310.2 242.6h0M337.9 283.4h0M338.4 232.4h0M252.4 319.1h0M156 305.5h0M203.7 395.6h0M324.8 269.8h0M143.4 365h0M403.2 308.9h0M311.7 512.9h0M335.9 342.9h0M319.8 295.3h0M341.9 291.9h0M184.6 307.2h0M286.1 373.5h0M321.3 285.1h0M330.8 283.4h0M343.9 302.1h0M190.1 346.3h0M305.2 399h0M242.9 308.9h0M249.4 441.5h0M336.9 191.6h0M200.2 351.4h0M307.7 366.7h0M553.9 332.7h0M557.5 416h0M321.8 206.9h0M312.7 137.2h0M334.3 232.4h0M322.8 305.5h0M347.4 176.3h0M312.2 356.5h0M354.4 329.3h0M373.5 393.9h0M445.9 337.8h0M332.3 184.8h0M457.5 283.4h0M353.4 312.3h0M325.3 314h0M312.7 290.2h0M329.8 297h0M253.4 331h0M303.7 319.1h0M286.6 416h0M186.1 332.7h0M377.6 280h0M302.7 380.3h0M352.9 368.4h0M331.8 239.2h0M331.3 404.1h0M288.1 387.1h0M331.3 234.1h0M363 409.2h0M360 363.3h0M355.4 195h0M320.8 339.5h0M321.8 234.1h0M318.8 252.8h0M148.9 470.4h0M489.6 382h0M321.8 193.3h0M271.5 358.2h0M306.7 341.2h0M323.3 179.7h0M230.3 412.6h0M288.6 144h0M273.5 286.8h0M311.2 291.9h0M272 526.5h0M341.9 291.9h0M323.3 232.4h0M235.9 342.9h0M490.6 429.6h0M458 405.8h0M185.6 426.2h0M352.9 339.5h0M317.8 234.1h0M562.5 438.1h0M335.9 341.2h0M571.5 342.9h0M347.9 342.9h0M303.2 315.7h0M316.8 314h0M361.5 385.4h0M321.8 242.6h0M164.5 317.4h0M159 351.4h0M331.8 154.2h0M263.5 269.8h0M245.9 395.6h0M320.8 147.4h0M133.3 303.8h0M347.4 354.8h0M291.6 376.9h0M169.5 431.3h0M245.4 375.2h0M220.8 365h0M175.6 353.1h0M307.7 130.4h0M96.7 300.4h0M488.1 388.8h0M298.7 348h0M381.6 336.1h0M444.9 424.5h0M192.1 327.6h0M559.5 320.8h0M331.8 195h0M461.5 336.1h0M293.1 274.9h0M339.4 278.3h0M203.7 392.2h0M331.8 307.2h0M378.1 332.7h0M206.7 395.6h0M515.7 467h0M345.4 118.5h0M416.8 421.1h0M283.6 205.2h0M452.9 349.7h0M284.1 424.5h0M293.6 152.5h0M319.3 283.4h0M319.3 341.2h0M222.8 225.6h0M323.3 269.8h0M376.6 339.5h0M282.1 266.4h0M326.3 261.3h0M432.3 393.9h0M395.1 268.1h0M349.4 191.6h0M117.8 274.9h0M323.8 240.9h0M318.3 128.7h0M349.9 242.6h0M291.1 327.6h0M445.4 308.9h0M344.4 252.8h0M462.5 291.9h0M165 429.6h0M326.3 436.4h0M130.8 368.4h0M328.8 234.1h0M178.6 380.3h0M570 359.9h0M332.3 232.4h0M196.7 405.8h0M87.1 366.7h0M527.8 373.5h0M283.1 444.9h0M319.8 259.6h0M229.3 358.2h0M406.2 341.2h0M384.6 356.5h0M322.8 433h0M330.3 223.9h0M236.9 404.1h0M400.2 366.7h0M331.8 266.4h0M345.9 353.1h0M385.6 320.8h0M306.7 356.5h0M337.9 308.9h0M417.3 359.9h0M345.4 331h0M96.2 487.4h0M256 477.2h0M391.6 320.8h0M317.3 234.1h0M362 99.8h0M314.7 239.2h0M84.1 315.7h0M372.5 288.5h0M303.7 280h0M272.5 263h0M328.8 127h0M129.3 353.1h0M322.3 332.7h0M304.2 247.7h0M290.6 382h0M125.3 417.7h0M324.8 200.1h0M113.2 475.5h0M293.6 201.8h0M319.8 191.6h0M393.1 395.6h0M328.3 256.2h0M202.2 365h0M479.6 370.1h0M382.6 135.5h0M309.7 205.2h0M316.3 252.8h0M262 334.4h0M252.4 132.1h0M559.5 307.2h0M321.8 137.2h0M340.9 266.4h0M153.9 444.9h0M309.2 240.9h0M239.4 225.6h0M328.3 208.6h0M313.2 293.6h0M453.4 453.4h0M298.2 213.7h0M329.8 337.8h0M332.3 387.1h0M255.5 383.7h0M248.4 385.4h0M104.7 234.1h0M410.2 429.6h0M323.8 189.9h0M475.5 475.5h0M543.4 266.4h0M306.2 378.6h0M381.1 319.1h0M344.4 392.2h0M332.8 200.1h0M121.3 397.3h0M494.6 329.3h0M312.7 297h0M290.1 331h0M298.2 382h0M282.1 365h0M319.8 179.7h0M319.8 407.5h0M221.3 473.8h0M322.3 195h0M375 206.9h0M332.8 276.6h0M330.8 327.6h0M315.2 166.1h0M323.3 339.5h0M251.9 480.6h0M193.6 334.4h0M337.4 315.7h0M143.4 310.6h0M324.3 205.2h0M147.4 431.3h0M343.9 220.5h0M358 317.4h0M327.3 263h0M330.8 339.5h0M163 363.3h0M141.9 354.8h0M279.6 368.4h0M302.7 331h0M372.5 300.4h0M322.8 229h0M141.9 392.2h0M477.1 332.7h0M542.9 315.7h0M327.8 234.1h0M378.1 269.8h0M327.8 293.6h0M356 280h0M346.9 332.7h0M98.2 237.5h0M362.5 227.3h0M321.3 307.2h0M469 410.9h0M125.3 336.1h0M101.7 370.1h0M457 388.8h0M209.2 363.3h0M346.9 234.1h0M334.3 353.1h0M321.8 336.1h0M422.8 346.3h0M399.7 390.5h0M212.7 305.5h0M484.1 339.5h0M312.2 178h0M374.5 295.3h0M323.3 138.9h0M427.3 218.8h0M405.2 324.2h0M258 475.5h0M527.3 383.7h0M254.4 409.2h0M324.8 261.3h0M501.2 404.1h0M470.5 288.5h0M315.8 358.2h0M334.3 325.9h0M366 256.2h0M303.7 363.3h0M387.6 393.9h0M130.3 365h0M312.7 172.9h0M341.9 310.6h0M542.9 366.7h0M263 400.7h0M245.9 431.3h0M466.5 356.5h0M239.9 295.3h0M354.9 331h0M313.7 235.8h0M333.8 121.9h0M521.8 307.2h0M242.9 353.1h0M324.3 242.6h0M232.8 421.1h0M321.8 254.5h0M334.3 208.6h0M329.8 249.4h0M425.8 417.7h0M322.8 303.8h0M261 239.2h0M285.6 339.5h0M323.3 223.9h0M432.8 395.6h0M331.8 315.7h0M314.2 308.9h0M278.6 244.3h0M302.2 339.5h0M198.7 371.8h0M294.6 268.1h0M216.8 410.9h0M92.1 348h0M152.9 327.6h0M108.7 244.3h0M450.9 337.8h0M449.9 308.9h0M322.8 278.3h0M506.7 280h0M317.3 154.2h0M325.3 329.3h0M256 305.5h0M450.4 472.1h0M461.5 388.8h0M508.2 375.2h0M375 383.7h0M310.2 317.4h0M541.9 387.1h0M490.6 307.2h0M315.8 230.7h0M400.2 429.6h0M148.4 375.2h0M332.3 322.5h0M495.6 446.6h0M500.7 402.4h0M336.9 305.5h0M430.8 342.9h0M348.9 198.4h0M551.9 307.2h0M417.8 256.2h0M290.6 353.1h0M191.1 346.3h0M331.8 220.5h0M311.2 295.3h0M314.7 191.6h0M301.7 373.5h0M262.5 410.9h0M302.7 278.3h0M312.7 407.5h0M411.2 427.9h0M371.5 344.6h0M375.6 276.6h0M170 349.7h0M304.2 256.2h0M329.8 331h0M363 366.7h0M291.6 314h0M358 298.7h0M112.2 399h0M457.5 302.1h0M177.1 393.9h0M330.3 149.1h0M468 315.7h0M468.5 385.4h0M172 448.3h0M173.5 382h0M502.2 359.9h0M319.3 305.5h0M476.6 283.4h0M236.9 268.1h0M411.7 334.4h0M333.8 291.9h0M360 310.6h0M190.6 363.3h0M441.4 382h0M406.2 342.9h0M318.8 274.9h0M236.4 404.1h0M325.8 290.2h0M429.8 470.4h0M343.4 390.5h0M541.9 281.7h0M318.8 237.5h0M361.5 252.8h0M313.7 276.6h0M351.9 373.5h0M184.1 130.4h0M290.1 298.7h0M340.9 195h0M307.2 178h0M332.3 376.9h0M337.4 147.4h0M211.7 424.5h0M346.4 290.2h0M553.9 373.5h0M366 419.4h0M419.3 307.2h0M486.1 383.7h0M337.4 246h0M294.6 329.3h0M377.6 370.1h0M172 482.3h0M355.4 274.9h0M331.8 290.2h0M336.4 239.2h0M463 346.3h0M320.8 191.6h0M402.7 467h0M330.3 189.9h0M320.3 252.8h0M359 416h0M331.3 132.1h0M335.9 421.1h0M359.5 257.9h0M273.5 375.2h0M331.8 274.9h0M343.4 227.3h0M94.7 409.2h0M363 358.2h0M322.8 201.8h0M264 325.9h0M351.9 399h0M446.9 422.8h0M107.7 407.5h0M293.6 414.3h0M354.4 351.4h0M336.4 249.4h0M276.1 331h0M382.1 417.7h0M200.2 351.4h0M541.9 325.9h0M347.4 332.7h0M309.7 288.5h0M374 278.3h0M311.7 257.9h0M323.8 314h0M360 460.2h0M317.3 251.1h0M174 246h0M237.9 263h0M315.8 334.4h0M307.2 205.2h0M177.6 417.7h0M402.2 261.3h0M333.3 300.4h0M281.6 271.5h0M567 433h0M329.8 149.1h0M451.9 460.2h0M327.8 392.2h0M109.2 317.4h0M310.2 305.5h0M380.1 392.2h0M566 366.7h0M323.3 191.6h0M272 358.2h0M301.2 332.7h0M374.5 412.6h0M374 307.2h0M313.2 271.5h0M159.5 259.6h0M383.6 378.6h0M228.8 348h0M321.8 285.1h0M336.4 144h0M319.3 251.1h0M461 382h0M289.6 433h0M185.6 356.5h0M338.9 315.7h0M566.5 370.1h0M323.3 244.3h0M541.4 373.5h0M203.7 407.5h0M323.3 298.7h0M325.8 254.5h0M430.8 385.4h0M449.9 356.5h0M298.7 371.8h0M528.8 461.9h0M289.1 276.6h0M505.2 443.2h0M390.6 297h0M211.2 291.9h0M356.5 315.7h0M157 448.3h0M377.6 453.4h0M399.7 319.1h0M390.1 324.2h0M401.7 477.2h0M151.4 484h0M205.7 249.4h0M361 358.2h0M543.9 268.1h0M464.5 387.1h0M186.1 370.1h0M317.8 200.1h0M389.6 387.1h0M472.5 341.2h0M381.6 322.5h0M278.6 268.1h0M240.4 358.2h0M334.8 286.8h0M240.9 380.3h0M485.6 278.3h0M113.7 468.7h0M112.2 388.8h0M474 436.4h0M333.8 416h0M318.3 257.9h0M335.4 329.3h0M248.9 246h0M347.4 142.3h0M546.9 390.5h0M303.2 251.1h0M313.7 144h0M418.8 361.6h0M123.8 426.2h0M300.7 329.3h0M308.7 312.3h0M227.8 274.9h0M122.3 305.5h0M448.4 363.3h0M178.6 395.6h0M340.9 354.8h0M241.4 327.6h0M487.1 390.5h0M313.7 363.3h0M320.8 206.9h0M358 337.8h0M323.8 407.5h0M305.7 281.7h0M317.3 351.4h0M407.7 319.1h0M101.2 342.9h0M276.6 410.9h0M321.8 261.3h0M367 307.2h0M331.3 130.4h0M259 499.3h0M475 305.5h0M562.5 337.8h0M149.9 334.4h0M446.9 266.4h0M107.7 375.2h0M474 342.9h0M109.2 404.1h0M327.3 307.2h0M312.2 334.4h0M197.2 448.3h0M297.7 378.6h0M299.2 342.9h0M514.2 315.7h0M268 419.4h0M476.6 295.3h0M323.8 234.1h0M374.5 356.5h0M465 433h0M317.3 400.7h0M161 252.8h0M561.5 315.7h0M342.9 404.1h0M119.8 393.9h0M381.1 229h0M336.4 278.3h0M320.8 273.2h0M282.1 402.4h0M328.8 128.7h0M346.4 373.5h0M290.6 351.4h0M492.1 378.6h0M333.3 174.6h0M372 291.9h0M350.9 310.6h0M337.4 339.5h0M124.8 266.4h0M211.7 327.6h0M296.7 329.3h0M292.1 399h0M339.4 232.4h0M361 433h0M271 195h0M342.4 191.6h0M437.9 317.4h0M272 395.6h0M359 382h0M212.7 402.4h0M311.7 271.5h0M309.2 349.7h0M322.8 135.5h0M396.2 354.8h0M291.1 356.5h0M271 278.3h0M343.4 210.3h0M301.2 315.7h0M509.7 409.2h0M331.8 393.9h0M335.4 268.1h0M328.3 252.8h0M315.8 128.7h0M315.8 305.5h0M351.4 247.7h0M384.6 280h0M293.1 310.6h0M320.3 237.5h0M348.9 385.4h0M354.4 399h0M451.4 361.6h0M162 344.6h0M375.6 169.5h0M276.1 230.7h0M331.3 259.6h0M321.8 203.5h0M484.6 346.3h0M325.8 133.8h0M299.7 195h0M453.9 390.5h0M247.4 346.3h0M344.4 361.6h0M569.5 388.8h0M322.8 178h0M384.6 344.6h0M324.8 213.7h0M335.9 300.4h0M282.6 436.4h0M495.6 336.1h0M321.3 247.7h0M564.5 359.9h0M364 365h0M322.8 419.4h0M383.6 327.6h0M329.3 174.6h0M170.5 472.1h0M300.7 205.2h0M134.4 298.7h0M132.3 366.7h0M319.3 200.1h0M331.3 184.8h0M345.9 144h0M319.3 329.3h0M341.4 339.5h0M231.3 281.7h0M330.3 205.2h0M441.9 353.1h0M342.9 356.5h0M518.3 341.2h0M535.3 470.4h0M326.3 225.6h0M396.2 331h0M485.6 329.3h0M536.4 291.9h0M326.8 237.5h0M165 269.8h0M431.8 356.5h0M516.8 365h0M390.6 356.5h0M553.9 315.7h0M390.1 237.5h0M479.6 490.8h0M414.2 298.7h0M321.8 223.9h0M374.5 308.9h0M340.4 346.3h0M384.1 327.6h0M369 319.1h0M190.1 291.9h0M311.7 427.9h0M533.3 244.3h0M327.3 310.6h0M361 368.4h0M327.3 191.6h0M362.5 342.9h0M319.3 249.4h0M269.5 363.3h0M128.3 310.6h0M329.8 388.8h0M220.3 368.4h0M265 356.5h0M548.4 402.4h0M328.3 254.5h0M549.9 332.7h0M322.3 353.1h0M550.4 303.8h0M276.1 378.6h0M319.8 334.4h0M338.4 307.2h0M321.8 295.3h0M335.9 337.8h0M322.8 259.6h0M371 215.4h0M310.7 154.2h0M338.9 308.9h0M324.8 152.5h0M346.9 178h0M331.8 285.1h0M242.4 404.1h0M306.7 288.5h0M429.3 315.7h0M328.8 271.5h0M460 370.1h0M330.8 125.3h0M306.7 353.1h0M337.4 82.8h0M337.4 368.4h0M275.6 325.9h0M517.8 278.3h0M296.7 371.8h0M351.4 341.2h0M337.9 283.4h0M283.6 256.2h0M404.2 191.6h0M329.3 310.6h0M334.3 155.9h0M267.5 366.7h0M320.8 297h0M98.7 254.5h0M451.4 424.5h0M357.5 246h0M340.4 234.1h0M501.2 308.9h0M318.8 186.5h0M142.9 271.5h0M492.6 349.7h0M218.8 237.5h0M305.7 317.4h0M306.2 276.6h0M316.3 130.4h0M326.3 273.2h0M365.5 249.4h0M293.1 234.1h0M134.4 385.4h0M451.4 453.4h0M386.6 427.9h0M345.4 329.3h0M340.9 152.5h0M318.3 332.7h0M319.8 186.5h0M388.6 365h0M371.5 402.4h0M349.4 341.2h0M325.3 223.9h0M306.7 149.1h0M374.5 314h0M326.3 346.3h0M417.8 246h0M500.2 337.8h0M469.5 363.3h0M342.9 256.2h0M423.8 424.5h0M339.4 249.4h0M320.8 164.4h0M418.8 416h0M345.4 247.7h0M365 467h0M304.2 407.5h0M363.5 365h0M318.8 87.9h0M444.9 441.5h0M343.9 331h0M560 334.4h0M331.8 392.2h0M321.3 138.9h0M230.3 376.9h0M315.2 198.4h0M316.3 312.3h0M317.8 268.1h0M325.3 259.6h0M374 280h0M328.3 237.5h0M329.3 208.6h0M343.9 402.4h0M287.6 421.1h0M303.2 331h0M463 414.3h0M379.6 302.1h0M317.8 174.6h0M389.1 319.1h0M132.3 393.9h0M437.9 410.9h0M519.3 315.7h0M324.3 259.6h0M420.3 239.2h0M336.4 256.2h0M344.9 329.3h0M295.2 210.3h0M190.1 312.3h0M303.7 276.6h0M156.5 509.5h0M387.1 324.2h0M425.8 422.8h0M486.1 383.7h0M400.7 363.3h0M319.3 305.5h0M518.8 427.9h0M297.2 268.1h0M271 342.9h0M361 382h0M316.3 162.7h0M326.8 283.4h0M161 354.8h0M97.2 407.5h0M354.9 324.2h0M337.4 251.1h0M323.8 319.1h0M450.9 361.6h0M554.9 412.6h0M318.8 380.3h0M326.3 244.3h0M390.1 397.3h0M335.4 137.2h0M224.3 263h0M281.1 341.2h0M293.1 388.8h0M369 329.3h0M325.3 166.1h0M199.2 409.2h0M219.8 375.2h0M567.5 427.9h0M284.6 264.7h0M330.8 167.8h0M252.9 308.9h0M276.1 363.3h0M324.3 154.2h0M299.7 302.1h0M364 159.3h0M346.9 348h0M251.9 400.7h0M488.6 431.3h0M287.1 370.1h0M466 336.1h0M284.6 252.8h0M242.9 327.6h0M353.9 370.1h0M367.5 200.1h0M432.3 305.5h0M326.8 298.7h0M529.8 234.1h0M273.5 280h0M528.3 376.9h0M330.8 166.1h0M82.6 395.6h0M461.5 397.3h0M329.3 286.8h0M341.9 303.8h0M227.3 378.6h0M327.3 271.5h0M539.4 417.7h0M496.7 327.6h0M334.3 171.2h0M329.8 201.8h0M340.4 298.7h0M296.7 242.6h0M417.3 283.4h0M434.8 378.6h0M351.4 218.8h0M348.9 297h0M326.8 300.4h0M343.4 166.1h0M326.3 308.9h0M457 358.2h0M334.3 337.8h0M104.2 308.9h0M314.7 212h0M268 223.9h0M338.4 342.9h0M331.8 324.2h0M324.3 443.2h0M490.1 290.2h0M301.7 239.2h0M387.1 387.1h0M322.3 290.2h0M260.5 402.4h0M315.8 225.6h0M313.2 263h0M319.3 179.7h0M333.8 366.7h0M315.8 393.9h0M113.7 305.5h0M401.7 438.1h0M307.7 232.4h0M382.1 385.4h0M107.7 404.1h0M408.7 400.7h0M342.4 271.5h0M221.3 443.2h0M325.3 337.8h0M229.8 390.5h0M326.3 247.7h0M189.1 439.8h0M324.8 387.1h0M339.9 251.1h0M485.1 319.1h0M304.7 410.9h0M319.3 128.7h0M312.2 348h0M265 337.8h0M293.6 259.6h0M99.7 322.5h0M303.7 229h0M323.3 314h0M323.8 375.2h0M323.3 314h0M311.7 225.6h0M132.3 366.7h0M322.3 290.2h0M291.1 303.8h0M465 274.9h0M134.4 349.7h0M482.6 380.3h0M196.7 281.7h0M318.3 222.2h0M325.3 327.6h0M383.1 404.1h0M322.8 239.2h0M325.8 315.7h0M243.9 276.6h0M288.1 416h0M320.3 246h0M334.8 348h0M375.6 205.2h0M419.8 375.2h0M85.6 494.2h0M103.7 358.2h0M286.6 264.7h0M324.8 266.4h0M318.8 222.2h0M344.4 383.7h0M287.1 300.4h0M444.9 429.6h0M341.9 380.3h0M388.1 446.6h0M316.8 291.9h0M324.8 201.8h0M296.7 298.7h0M326.8 298.7h0M350.4 198.4h0M288.1 356.5h0M255 308.9h0M332.8 237.5h0M189.6 387.1h0M336.9 271.5h0M109.7 426.2h0M254.4 348h0M430.3 390.5h0M386.1 336.1h0M378.1 385.4h0M547.9 436.4h0M270 332.7h0M370 344.6h0M369.5 263h0M250.4 478.9h0M321.8 290.2h0M107.2 446.6h0M264.5 324.2h0M221.3 470.4h0M303.7 193.3h0M322.8 324.2h0M247.4 325.9h0M180.1 429.6h0M344.4 246h0M243.9 370.1h0M307.2 327.6h0M364.5 266.4h0M342.4 244.3h0M253.9 344.6h0M408.2 436.4h0M303.7 132.1h0M417.8 373.5h0M555.4 450h0M85.6 293.6h0M328.8 212h0M109.7 421.1h0M400.7 446.6h0M297.7 278.3h0M302.2 305.5h0M258.5 371.8h0M126.8 370.1h0M369.5 252.8h0M517.8 470.4h0M443.9 376.9h0M303.2 349.7h0M310.7 249.4h0M306.2 359.9h0M241.4 439.8h0M324.8 259.6h0M249.4 274.9h0M527.8 407.5h0M367 264.7h0M328.8 293.6h0M95.2 348h0M129.8 303.8h0M302.7 320.8h0M309.2 242.6h0M412.2 167.8h0M371.5 354.8h0M385.1 421.1h0M341.4 349.7h0M84.6 298.7h0M526.8 373.5h0M506.7 399h0M442.4 383.7h0M325.8 222.2h0M325.3 268.1h0M339.4 407.5h0M331.3 363.3h0M464 370.1h0M492.6 412.6h0M315.8 225.6h0M230.3 365h0M291.1 307.2h0M386.1 346.3h0M531.8 431.3h0M150.4 453.4h0M300.7 273.2h0M293.6 291.9h0M98.2 322.5h0M344.9 392.2h0M353.9 354.8h0M397.2 320.8h0M282.6 382h0M387.1 305.5h0M321.8 225.6h0M366.5 392.2h0M109.7 181.4h0M487.1 320.8h0M317.8 138.9h0M320.8 149.1h0M480.6 434.7h0M113.2 276.6h0M187.1 375.2h0M259.5 293.6h0M344.4 205.2h0M454.9 331h0M275.6 285.1h0M339.4 281.7h0M201.2 388.8h0M558 337.8h0M319.8 365h0M439.9 325.9h0M466.5 254.5h0M183.1 400.7h0M346.9 310.6h0M324.8 320.8h0M161.5 344.6h0M361.5 225.6h0M466 353.1h0M328.8 240.9h0M126.8 429.6h0M338.9 334.4h0M126.3 412.6h0M286.6 222.2h0M210.2 281.7h0M475 383.7h0M333.3 348h0M500.2 407.5h0M329.8 206.9h0M334.3 203.5h0M330.3 203.5h0M459.5 298.7h0M569 371.8h0M337.9 331h0M264 281.7h0M521.8 337.8h0M394.6 438.1h0M171.5 315.7h0M566.5 422.8h0M105.2 376.9h0M317.3 234.1h0M196.7 295.3h0M432.3 242.6h0M331.8 278.3h0M513.7 285.1h0M381.6 375.2h0M326.8 269.8h0M389.1 407.5h0M491.1 473.8h0M324.8 354.8h0M204.7 397.3h0M311.2 273.2h0M413.2 366.7h0M169 455.1h0M325.3 249.4h0M325.3 179.7h0M539.9 269.8h0M568 164.4h0M151.4 246h0M321.3 183.1h0M328.3 280h0M320.3 246h0M330.3 242.6h0M428.8 410.9h0M171 358.2h0M330.8 295.3h0M279.6 358.2h0M323.3 212h0M227.3 439.8h0M101.7 405.8h0M155 356.5h0M537.9 354.8h0M344.4 229h0M165.5 477.2h0M328.3 230.7h0M326.3 144h0M263.5 443.2h0M313.2 166.1h0M319.8 283.4h0M445.9 405.8h0M325.8 229h0M236.9 409.2h0M557 346.3h0M330.3 376.9h0M91.6 344.6h0M262.5 400.7h0M301.7 346.3h0M368.5 307.2h0M337.4 329.3h0M341.4 317.4h0M348.4 203.5h0M313.7 220.5h0M552.4 412.6h0M126.3 261.3h0M341.9 242.6h0M327.8 195h0M113.7 342.9h0M308.7 186.5h0M256 308.9h0M219.8 327.6h0M553.4 320.8h0M309.2 339.5h0M323.3 274.9h0M493.6 315.7h0M339.4 210.3h0M256.5 327.6h0M325.8 441.5h0M205.7 397.3h0M317.8 339.5h0M326.8 327.6h0M326.3 235.8h0M362 302.1h0M271 393.9h0M495.1 363.3h0M327.8 314h0M306.2 242.6h0M332.3 269.8h0M263 288.5h0M450.4 373.5h0M553.9 307.2h0M314.2 375.2h0M251.4 433h0M307.2 254.5h0M353.4 286.8h0M319.3 130.4h0M290.1 257.9h0M308.7 373.5h0M302.2 461.9h0M329.8 336.1h0M340.9 354.8h0M471 319.1h0M426.8 348h0M386.6 444.9h0M282.6 431.3h0M478.1 351.4h0M332.3 302.1h0M258 392.2h0M529.8 392.2h0M349.9 378.6h0M301.7 259.6h0M313.7 252.8h0M317.8 324.2h0M275.1 439.8h0M334.3 176.3h0M322.3 213.7h0M418.3 363.3h0M488.6 489.1h0M538.4 324.2h0M140.9 393.9h0M324.8 346.3h0M478.1 342.9h0M125.8 359.9h0M342.4 193.3h0M342.9 344.6h0M449.4 412.6h0M335.9 305.5h0M325.3 205.2h0M331.8 378.6h0M463 320.8h0M253.4 346.3h0M507.2 280h0M202.7 359.9h0M417.3 373.5h0M321.8 157.6h0M335.4 232.4h0M336.4 271.5h0M351.4 285.1h0M289.1 179.7h0M284.6 438.1h0M371 334.4h0M325.3 293.6h0M180.1 405.8h0M311.2 118.5h0M365 276.6h0M317.3 254.5h0M309.7 150.8h0M117.3 303.8h0M334.8 193.3h0M343.9 348h0M327.8 188.2h0M433.8 320.8h0M323.3 249.4h0M533.8 370.1h0M153.9 325.9h0M204.2 308.9h0M455.4 319.1h0M314.7 186.5h0M359.5 331h0M315.8 210.3h0M343.9 412.6h0M341.4 383.7h0M271.5 392.2h0M310.7 390.5h0M151.4 302.1h0M322.3 416h0M333.8 280h0M306.7 212h0M361.5 188.2h0M432.3 439.8h0M342.9 375.2h0M394.6 334.4h0M475.5 478.9h0M339.4 280h0M322.8 331h0M195.7 336.1h0M100.2 397.3h0M335.4 431.3h0M320.3 206.9h0M425.8 300.4h0M306.7 353.1h0M319.8 208.6h0M438.4 410.9h0M342.4 342.9h0M529.3 429.6h0M310.2 242.6h0M280.1 206.9h0M356 366.7h0M329.3 234.1h0M295.2 166.1h0M297.2 378.6h0M346.9 152.5h0M148.4 354.8h0M327.3 269.8h0M332.8 314h0M390.1 353.1h0M306.2 298.7h0M159.5 540.1h0M251.4 320.8h0M452.9 322.5h0M266 290.2h0M325.3 252.8h0M318.8 208.6h0M93.6 239.2h0M309.2 212h0M514.2 348h0M292.6 414.3h0M367.5 286.8h0M282.1 446.6h0M329.8 164.4h0M376.1 325.9h0M542.4 373.5h0M177.6 458.5h0M311.7 223.9h0M289.6 227.3h0M168 404.1h0M348.9 251.1h0M522.3 422.8h0M322.8 273.2h0M167 314h0M304.2 288.5h0M437.9 404.1h0M221.8 242.6h0M354.4 246h0M349.9 225.6h0M256 341.2h0M259 371.8h0M291.1 310.6h0M398.7 273.2h0M327.8 254.5h0M372 332.7h0M317.3 297h0M200.2 286.8h0M445.9 302.1h0M269.5 266.4h0M427.3 361.6h0M89.1 376.9h0M199.2 365h0M358 244.3h0M348.4 149.1h0M468 359.9h0M320.8 285.1h0M325.3 303.8h0M321.8 208.6h0M174 477.2h0M310.2 293.6h0M331.8 213.7h0M318.8 152.5h0M448.4 339.5h0M352.4 325.9h0M322.8 225.6h0M321.8 179.7h0M189.1 376.9h0M322.3 205.2h0M305.2 409.2h0M138.4 441.5h0M170 456.8h0M314.7 427.9h0M140.4 417.7h0M565.5 378.6h0M123.3 365h0M327.3 147.4h0M268.5 239.2h0M513.7 416h0M561 388.8h0M89.6 273.2h0M260 298.7h0M315.8 332.7h0M546.4 337.8h0M396.7 259.6h0M468 324.2h0M323.8 266.4h0M513.7 484h0M151.4 416h0M500.2 390.5h0M86.6 300.4h0M330.3 303.8h0M322.8 213.7h0M306.2 205.2h0M317.8 237.5h0M328.3 356.5h0M118.8 436.4h0M330.3 206.9h0M339.9 183.1h0M178.6 465.3h0M199.2 502.7h0M370 392.2h0M201.7 349.7h0M266 269.8h0M341.4 331h0M329.3 283.4h0M329.8 235.8h0M310.7 392.2h0M464.5 361.6h0M324.8 145.7h0M199.7 312.3h0M178.1 322.5h0M321.8 310.6h0M497.7 312.3h0M315.2 264.7h0M340.4 213.7h0M341.4 293.6h0M361 291.9h0M144.4 303.8h0M342.9 376.9h0M312.2 252.8h0M431.3 387.1h0M128.3 371.8h0M331.8 354.8h0M142.4 315.7h0M327.8 234.1h0M342.9 351.4h0M326.8 298.7h0M189.1 334.4h0M322.3 332.7h0M322.8 150.8h0M315.2 286.8h0M278.1 473.8h0M317.3 215.4h0M190.6 320.8h0M318.8 154.2h0M278.1 407.5h0M330.3 159.3h0M332.8 285.1h0M295.2 293.6h0M341.4 322.5h0M351.4 150.8h0M337.9 227.3h0M501.2 317.4h0M486.1 348h0M327.8 344.6h0M286.6 325.9h0M553.4 392.2h0M459.5 378.6h0M335.9 283.4h0M331.3 251.1h0M334.3 196.7h0M318.8 397.3h0M387.1 361.6h0M422.3 390.5h0M500.7 293.6h0M453.4 363.3h0M179.1 358.2h0M100.2 431.3h0M152.9 249.4h0M323.3 181.4h0M359.5 404.1h0M364.5 324.2h0M323.3 246h0M325.3 213.7h0M88.1 351.4h0M279.1 436.4h0M332.8 252.8h0M345.9 269.8h0M315.8 342.9h0M330.3 135.5h0M395.1 268.1h0M527.3 307.2h0M345.4 302.1h0M503.7 426.2h0M330.3 159.3h0M313.7 128.7h0M338.9 395.6h0M288.6 251.1h0M275.6 303.8h0M245.4 342.9h0M364 302.1h0M380.1 409.2h0M469 353.1h0M413.2 356.5h0M477.1 278.3h0M322.3 315.7h0M270 463.6h0M160 365h0M524.3 346.3h0M317.3 349.7h0M346.4 246h0M391.1 230.7h0M301.2 166.1h0M346.9 176.3h0M333.3 324.2h0M319.8 308.9h0M330.3 298.7h0M428.3 320.8h0M97.7 451.7h0M308.7 412.6h0M345.4 242.6h0M296.7 256.2h0M538.9 361.6h0M387.1 387.1h0M359.5 307.2h0M320.3 222.2h0M356.5 439.8h0M88.6 285.1h0M370.5 380.3h0M490.6 373.5h0M426.3 334.4h0M296.2 395.6h0M341.4 259.6h0M135.4 417.7h0M315.8 322.5h0M351.9 281.7h0M311.7 229h0M352.4 310.6h0M288.6 405.8h0M322.8 237.5h0M297.2 176.3h0M426.3 460.2h0M322.8 191.6h0M297.2 293.6h0M356.5 300.4h0M324.8 344.6h0M213.7 395.6h0M258 298.7h0M330.8 206.9h0M113.7 465.3h0M486.1 310.6h0M351.9 290.2h0M335.4 189.9h0M183.6 477.2h0M256 348h0M464 407.5h0M557 361.6h0M399.7 196.7h0M95.2 390.5h0M533.3 351.4h0M320.3 232.4h0M327.3 257.9h0M285.1 189.9h0M199.7 407.5h0M306.2 429.6h0M206.7 380.3h0M301.2 322.5h0M341.4 278.3h0M529.8 410.9h0M285.6 291.9h0M231.8 380.3h0M329.8 155.9h0M119.8 308.9h0M212.2 402.4h0M349.4 229h0M268 322.5h0M321.8 251.1h0M299.7 312.3h0M328.3 206.9h0M231.8 366.7h0M334.3 147.4h0M428.8 473.8h0M188.6 346.3h0M268.5 397.3h0M338.4 132.1h0M494.1 472.1h0M162.5 365h0M324.3 344.6h0M335.4 427.9h0M323.3 189.9h0M321.3 67.5h0M323.8 67.5h0M336.4 67.5h0M316.3 89.6h0M327.8 89.6h0M335.4 93h0M177.1 118.5h0M183.6 135.5h0M238.9 113.4h0M431.8 135.5h0M487.1 128.7h0M79.1 213.7h0M566.5 150.8h0M568 172.9h0M111.7 550.3h0M123.3 529.9h0M530.3 536.7h0M310.2 560.5h0M307.7 560.5h0M335.4 540.1h0M385.6 541.8h0" fill="none" stroke="#000" stroke-width="1.7" stroke-linecap="round"/>
<path class="gD" stroke-dashoffset="17.1" d="M272.54 47.81V580.24M378.06 47.81V580.24"/>
<path class="rD" d="M59.76 441.5H592.19"/>
</g>
<g transform="translate(0,0)">
<rect class="b" x="59.76" y="47.81" width="532.43" height="532.43"/>
<path class="b" d="M124.3 580.24H526.3M124.3 580.24v6M224.8 580.24v6M325.3 580.24v6M425.8 580.24v6M526.3 580.24v6M59.76 577.5V67.5M59.76 577.5h-6M59.76 492.5h-6M59.76 407.5h-6M59.76 322.5h-6M59.76 237.5h-6M59.76 152.5h-6M59.76 67.5h-6"/>
<text class="k" x="124.3" y="602.04">-400</text>
<text class="k" x="224.8" y="602.04">-200</text>
<text class="k" x="325.3" y="602.04">0</text>
<text class="k" x="425.8" y="602.04">200</text>
<text class="k" x="526.3" y="602.04">400</text>
<text class="k" transform="translate(44.76,578.4) rotate(-90)">70</text>
<text class="k" transform="translate(44.76,493.4) rotate(-90)">75</text>
<text class="k" transform="translate(44.76,408.4) rotate(-90)">80</text>
<text class="k" transform="translate(44.76,323.4) rotate(-90)">85</text>
<text class="k" transform="translate(44.76,238.4) rotate(-90)">90</text>
<text class="k" transform="translate(44.76,153.4) rotate(-90)">95</text>
<text class="k" transform="translate(44.76,68.4) rotate(-90)">100</text>
<text class="t" x="323" y="32" textLength="213.3" lengthAdjust="spacingAndGlyphs">Top hit for each peak</text>
<text class="l" x="326.1" y="626.3" textLength="173.5" lengthAdjust="spacingAndGlyphs">Distance to peak summit</text>
<text class="l" transform="translate(22.3,314.4) rotate(-90)" textLength="76.8" lengthAdjust="spacingAndGlyphs">Motif score</text>
</g>
<defs><clipPath id="hc"><rect x="59.76" y="47.81" width="532.43" height="532.43"/></clipPath>
<filter id="hm" filterUnits="userSpaceOnUse" x="0" y="0" width="640" height="640" color-interpolation-filters="sRGB"><feGaussianBlur stdDeviation="4.5"/><feComponentTransfer><feFuncR type="table" tableValues="1 0 1"/><feFuncG type="table" tableValues="1 0 0"/><feFuncB type="table" tableValues="1 1 0"/></feComponentTransfer></filter></defs>
<g transform="translate(640,0)">
<g clip-path="url(#hc)"><g filter="url(#hm)"><rect x="0" y="0" width="640" height="640" fill="#000"/>
<g transform="translate(24.265,12.313) scale(8.8739,8.8739)" shape-rendering="crispEdges">
<path fill="#010101" d="M32 1h4v1h-4zM30 2h7v1h-7zM29 3h3v1h-3zM35 3h4v1h-4zM29 4h2v1h-2zM37 4h3v1h-3zM28 5h2v1h-2zM38 5h3v1h-3zM27 6h2v1h-2zM39 6h3v1h-3zM26 7h2v1h-2zM40 7h2v1h-2zM14 8h4v1h-4zM26 8h2v1h-2zM40 8h3v1h-3zM14 9h1v1h-1zM17 9h1v1h-1zM25 9h2v1h-2zM41 9h3v1h-3zM53 9h3v1h-3zM14 10h1v1h-1zM18 10h1v1h-1zM24 10h3v1h-3zM42 10h2v1h-2zM52 10h4v1h-4zM13 11h2v1h-2zM18 11h1v1h-1zM24 11h2v1h-2zM43 11h2v1h-2zM52 11h1v1h-1zM55 11h2v1h-2zM62 11h2v1h-2zM14 12h1v1h-1zM17 12h2v1h-2zM23 12h3v1h-3zM43 12h3v1h-3zM51 12h2v1h-2zM55 12h2v1h-2zM61 12h4v1h-4zM14 13h4v1h-4zM22 13h3v1h-3zM44 13h2v1h-2zM52 13h1v1h-1zM55 13h2v1h-2zM61 13h2v1h-2zM64 13h1v1h-1zM15 14h3v1h-3zM22 14h2v1h-2zM44 14h3v1h-3zM52 14h4v1h-4zM61 14h1v1h-1zM64 14h2v1h-2zM21 15h3v1h-3zM45 15h3v1h-3zM52 15h4v1h-4zM60 15h2v1h-2zM65 15h1v1h-1zM20 16h3v1h-3zM45 16h4v1h-4zM53 16h2v1h-2zM60 16h2v1h-2zM64 16h2v1h-2zM7 17h16v1h-16zM46 17h16v1h-16zM64 17h2v1h-2zM5 18h17v1h-17zM47 18h18v1h-18zM4 19h17v1h-17zM48 19h17v1h-17zM3 20h4v1h-4zM53 20h7v1h-7zM62 20h3v1h-3zM3 21h2v1h-2zM63 21h2v1h-2zM3 22h1v1h-1zM64 22h1v1h-1zM2 23h2v1h-2zM64 23h2v1h-2zM2 24h1v1h-1zM65 24h1v1h-1zM2 25h1v1h-1zM65 25h1v1h-1zM2 26h1v1h-1zM65 26h1v1h-1zM2 27h1v1h-1zM65 27h1v1h-1zM1 29h1v1h-1zM66 29h1v1h-1zM1 30h1v1h-1zM66 30h1v1h-1zM1 31h1v1h-1zM66 31h1v1h-1zM1 32h1v1h-1zM66 32h1v1h-1zM1 33h1v1h-1zM66 33h1v1h-1zM1 34h1v1h-1zM66 34h1v1h-1zM1 35h1v1h-1zM66 35h1v1h-1zM1 36h1v1h-1zM66 36h1v1h-1zM1 37h1v1h-1zM1 38h1v1h-1zM1 39h1v1h-1zM1 40h1v1h-1zM1 41h1v1h-1zM1 42h1v1h-1zM1 43h1v1h-1zM1 44h1v1h-1zM1 45h1v1h-1zM1 46h1v1h-1zM1 47h1v1h-1zM66 47h1v1h-1zM1 48h1v1h-1zM66 48h1v1h-1zM1 49h1v1h-1zM66 49h1v1h-1zM0 50h2v1h-2zM66 50h1v1h-1zM0 51h2v1h-2zM66 51h1v1h-1zM0 52h2v1h-2zM66 52h1v1h-1zM0 53h2v1h-2zM65 53h1v1h-1zM0 54h2v1h-2zM65 54h1v1h-1zM1 55h2v1h-2zM65 55h1v1h-1zM1 56h2v1h-2zM64 56h2v1h-2zM2 57h2v1h-2zM63 57h2v1h-2zM3 58h2v1h-2zM24 58h3v1h-3zM61 58h4v1h-4zM3 59h6v1h-6zM16 59h48v1h-48zM4 60h59v1h-59zM8 61h9v1h-9zM30 61h8v1h-8z"/>
<path fill="#020202" d="M32 3h3v1h-3zM31 4h2v1h-2zM35 4h2v1h-2zM30 5h1v1h-1zM37 5h1v1h-1zM29 6h1v1h-1zM38 6h1v1h-1zM28 7h1v1h-1zM39 7h1v1h-1zM28 8h1v1h-1zM39 8h1v1h-1zM15 9h2v1h-2zM27 9h1v1h-1zM40 9h1v1h-1zM15 10h3v1h-3zM27 10h1v1h-1zM41 10h1v1h-1zM15 11h3v1h-3zM26 11h1v1h-1zM41 11h2v1h-2zM53 11h2v1h-2zM15 12h2v1h-2zM26 12h1v1h-1zM42 12h1v1h-1zM53 12h2v1h-2zM25 13h1v1h-1zM43 13h1v1h-1zM53 13h2v1h-2zM63 13h1v1h-1zM24 14h2v1h-2zM43 14h1v1h-1zM62 14h2v1h-2zM24 15h1v1h-1zM44 15h1v1h-1zM62 15h3v1h-3zM23 16h2v1h-2zM44 16h1v1h-1zM62 16h2v1h-2zM23 17h1v1h-1zM45 17h1v1h-1zM62 17h2v1h-2zM22 18h2v1h-2zM45 18h2v1h-2zM21 19h2v1h-2zM46 19h2v1h-2zM7 20h15v1h-15zM47 20h6v1h-6zM60 20h2v1h-2zM5 21h15v1h-15zM48 21h15v1h-15zM4 22h2v1h-2zM62 22h2v1h-2zM4 23h1v1h-1zM63 23h1v1h-1zM3 24h1v1h-1zM64 24h1v1h-1zM3 25h1v1h-1zM64 25h1v1h-1zM2 28h1v1h-1zM65 28h1v1h-1zM2 29h1v1h-1zM65 29h1v1h-1zM2 30h1v1h-1zM65 30h1v1h-1zM66 37h1v1h-1zM66 38h1v1h-1zM66 39h1v1h-1zM66 40h1v1h-1zM66 41h1v1h-1zM66 42h1v1h-1zM66 43h1v1h-1zM66 44h1v1h-1zM66 45h1v1h-1zM66 46h1v1h-1zM65 51h1v1h-1zM2 52h1v1h-1zM65 52h1v1h-1zM2 53h1v1h-1zM2 54h1v1h-1zM64 54h1v1h-1zM64 55h1v1h-1zM3 56h1v1h-1zM63 56h1v1h-1zM4 57h1v1h-1zM21 57h10v1h-10zM38 57h7v1h-7zM59 57h4v1h-4zM5 58h4v1h-4zM16 58h8v1h-8zM27 58h34v1h-34zM9 59h7v1h-7z"/>
<path fill="#030303" d="M33 4h2v1h-2zM31 5h1v1h-1zM36 5h1v1h-1zM30 6h1v1h-1zM37 6h1v1h-1zM29 7h1v1h-1zM38 7h1v1h-1zM28 9h1v1h-1zM39 9h1v1h-1zM40 10h1v1h-1zM27 11h1v1h-1zM41 12h1v1h-1zM26 13h1v1h-1zM42 13h1v1h-1zM42 14h1v1h-1zM25 15h1v1h-1zM43 15h1v1h-1zM43 16h1v1h-1zM24 17h1v1h-1zM44 17h1v1h-1zM44 18h1v1h-1zM23 19h1v1h-1zM45 19h1v1h-1zM22 20h1v1h-1zM46 20h1v1h-1zM20 21h2v1h-2zM46 21h2v1h-2zM6 22h15v1h-15zM48 22h14v1h-14zM5 23h2v1h-2zM55 23h8v1h-8zM4 24h1v1h-1zM63 24h1v1h-1zM3 26h1v1h-1zM64 26h1v1h-1zM3 27h1v1h-1zM64 27h1v1h-1zM2 31h1v1h-1zM65 31h1v1h-1zM2 32h1v1h-1zM65 32h1v1h-1zM2 33h1v1h-1zM2 47h1v1h-1zM2 48h1v1h-1zM2 49h1v1h-1zM65 49h1v1h-1zM2 50h1v1h-1zM65 50h1v1h-1zM2 51h1v1h-1zM64 53h1v1h-1zM3 54h1v1h-1zM63 54h1v1h-1zM3 55h1v1h-1zM63 55h1v1h-1zM4 56h1v1h-1zM22 56h8v1h-8zM38 56h7v1h-7zM59 56h4v1h-4zM5 57h3v1h-3zM17 57h4v1h-4zM31 57h7v1h-7zM45 57h14v1h-14zM9 58h7v1h-7z"/>
<path fill="#040404" d="M32 5h1v1h-1zM35 5h1v1h-1zM36 6h1v1h-1zM37 7h1v1h-1zM29 8h1v1h-1zM38 8h1v1h-1zM40 11h1v1h-1zM27 12h1v1h-1zM41 13h1v1h-1zM26 14h1v1h-1zM42 15h1v1h-1zM25 16h1v1h-1zM25 17h1v1h-1zM43 17h1v1h-1zM24 18h1v1h-1zM24 19h1v1h-1zM44 19h1v1h-1zM23 20h1v1h-1zM45 20h1v1h-1zM22 21h1v1h-1zM45 21h1v1h-1zM21 22h1v1h-1zM46 22h2v1h-2zM7 23h5v1h-5zM15 23h6v1h-6zM47 23h8v1h-8zM5 24h1v1h-1zM60 24h3v1h-3zM4 25h1v1h-1zM63 25h1v1h-1zM63 26h1v1h-1zM3 28h1v1h-1zM64 28h1v1h-1zM65 33h1v1h-1zM2 34h1v1h-1zM65 34h1v1h-1zM2 35h1v1h-1zM2 36h1v1h-1zM2 44h1v1h-1zM2 45h1v1h-1zM2 46h1v1h-1zM65 48h1v1h-1zM64 52h1v1h-1zM3 53h1v1h-1zM4 55h1v1h-1zM23 55h6v1h-6zM41 55h2v1h-2zM60 55h3v1h-3zM5 56h1v1h-1zM19 56h3v1h-3zM30 56h8v1h-8zM45 56h14v1h-14zM8 57h9v1h-9z"/>
<path fill="#050505" d="M33 5h2v1h-2zM31 6h1v1h-1zM30 7h1v1h-1zM28 10h1v1h-1zM39 10h1v1h-1zM40 12h1v1h-1zM27 13h1v1h-1zM41 14h1v1h-1zM26 15h1v1h-1zM42 16h1v1h-1zM25 18h1v1h-1zM43 18h1v1h-1zM24 20h1v1h-1zM44 20h1v1h-1zM23 21h1v1h-1zM22 22h1v1h-1zM45 22h1v1h-1zM12 23h3v1h-3zM21 23h1v1h-1zM46 23h1v1h-1zM6 24h4v1h-4zM18 24h3v1h-3zM48 24h12v1h-12zM5 25h1v1h-1zM62 25h1v1h-1zM4 26h1v1h-1zM3 29h1v1h-1zM64 29h1v1h-1zM65 35h1v1h-1zM65 36h1v1h-1zM2 37h1v1h-1zM2 38h1v1h-1zM2 39h1v1h-1zM2 40h1v1h-1zM2 41h1v1h-1zM2 42h1v1h-1zM2 43h1v1h-1zM65 47h1v1h-1zM3 51h1v1h-1zM64 51h1v1h-1zM3 52h1v1h-1zM63 53h1v1h-1zM4 54h1v1h-1zM24 54h3v1h-3zM61 54h2v1h-2zM5 55h1v1h-1zM20 55h3v1h-3zM29 55h12v1h-12zM43 55h5v1h-5zM56 55h4v1h-4zM6 56h3v1h-3zM16 56h3v1h-3z"/>
<path fill="#060606" d="M35 6h1v1h-1zM38 9h1v1h-1zM28 11h1v1h-1zM39 11h1v1h-1zM40 13h1v1h-1zM27 14h1v1h-1zM41 15h1v1h-1zM26 16h1v1h-1zM42 17h1v1h-1zM43 19h1v1h-1zM44 21h1v1h-1zM23 22h1v1h-1zM22 23h1v1h-1zM45 23h1v1h-1zM10 24h8v1h-8zM21 24h1v1h-1zM46 24h2v1h-2zM6 25h2v1h-2zM53 25h9v1h-9zM5 26h1v1h-1zM62 26h1v1h-1zM4 27h1v1h-1zM63 27h1v1h-1zM3 30h1v1h-1zM64 30h1v1h-1zM3 31h1v1h-1zM65 37h1v1h-1zM65 38h1v1h-1zM65 45h1v1h-1zM65 46h1v1h-1zM3 49h1v1h-1zM3 50h1v1h-1zM64 50h1v1h-1zM63 52h1v1h-1zM4 53h1v1h-1zM62 53h1v1h-1zM21 54h3v1h-3zM27 54h3v1h-3zM38 54h8v1h-8zM58 54h3v1h-3zM6 55h1v1h-1zM18 55h2v1h-2zM48 55h8v1h-8zM9 56h7v1h-7z"/>
<path fill="#070707" d="M32 6h1v1h-1zM36 7h1v1h-1zM37 8h1v1h-1zM29 9h1v1h-1zM40 14h1v1h-1zM41 16h1v1h-1zM26 17h1v1h-1zM42 18h1v1h-1zM25 19h1v1h-1zM43 20h1v1h-1zM24 21h1v1h-1zM44 22h1v1h-1zM23 23h1v1h-1zM22 24h1v1h-1zM8 25h3v1h-3zM16 25h6v1h-6zM47 25h6v1h-6zM6 26h1v1h-1zM55 26h7v1h-7zM4 28h1v1h-1zM63 28h1v1h-1zM64 31h1v1h-1zM3 32h1v1h-1zM65 39h1v1h-1zM65 40h1v1h-1zM65 44h1v1h-1zM3 48h1v1h-1zM4 52h1v1h-1zM22 53h5v1h-5zM42 53h2v1h-2zM60 53h2v1h-2zM5 54h1v1h-1zM19 54h2v1h-2zM30 54h8v1h-8zM46 54h4v1h-4zM54 54h4v1h-4zM7 55h2v1h-2zM16 55h2v1h-2z"/>
<path fill="#080808" d="M33 6h2v1h-2zM31 7h1v1h-1zM30 8h1v1h-1zM28 12h1v1h-1zM39 12h1v1h-1zM27 15h1v1h-1zM26 18h1v1h-1zM25 20h1v1h-1zM24 22h1v1h-1zM44 23h1v1h-1zM23 24h1v1h-1zM45 24h1v1h-1zM11 25h5v1h-5zM22 25h1v1h-1zM46 25h1v1h-1zM7 26h2v1h-2zM18 26h3v1h-3zM54 26h1v1h-1zM5 27h1v1h-1zM62 27h1v1h-1zM4 29h1v1h-1zM63 29h1v1h-1zM64 32h1v1h-1zM3 33h1v1h-1zM65 41h1v1h-1zM65 42h1v1h-1zM65 43h1v1h-1zM3 47h1v1h-1zM64 49h1v1h-1zM4 51h1v1h-1zM63 51h1v1h-1zM62 52h1v1h-1zM5 53h1v1h-1zM20 53h2v1h-2zM27 53h3v1h-3zM39 53h3v1h-3zM44 53h4v1h-4zM57 53h3v1h-3zM6 54h1v1h-1zM18 54h1v1h-1zM50 54h4v1h-4zM9 55h2v1h-2zM14 55h2v1h-2z"/>
<path fill="#090909" d="M38 10h1v1h-1zM40 15h1v1h-1zM27 16h1v1h-1zM41 17h1v1h-1zM42 19h1v1h-1zM25 21h1v1h-1zM43 21h1v1h-1zM24 23h1v1h-1zM45 25h1v1h-1zM9 26h2v1h-2zM16 26h2v1h-2zM21 26h1v1h-1zM47 26h3v1h-3zM52 26h2v1h-2zM6 27h2v1h-2zM55 27h7v1h-7zM5 28h1v1h-1zM62 28h1v1h-1zM64 33h1v1h-1zM3 34h1v1h-1zM3 46h1v1h-1zM64 48h1v1h-1zM21 52h5v1h-5zM42 52h3v1h-3zM58 52h4v1h-4zM19 53h1v1h-1zM30 53h2v1h-2zM36 53h3v1h-3zM48 53h9v1h-9zM7 54h2v1h-2zM16 54h2v1h-2zM11 55h3v1h-3z"/>
<path fill="#0a0a0a" d="M35 7h1v1h-1zM29 10h1v1h-1zM28 13h1v1h-1zM39 13h1v1h-1zM41 18h1v1h-1zM26 19h1v1h-1zM42 20h1v1h-1zM43 22h1v1h-1zM44 24h1v1h-1zM23 25h1v1h-1zM11 26h5v1h-5zM22 26h1v1h-1zM46 26h1v1h-1zM50 26h2v1h-2zM8 27h2v1h-2zM18 27h3v1h-3zM54 27h1v1h-1zM4 30h1v1h-1zM63 30h1v1h-1zM64 34h1v1h-1zM3 35h1v1h-1zM3 45h1v1h-1zM4 50h1v1h-1zM63 50h1v1h-1zM62 51h1v1h-1zM5 52h1v1h-1zM20 52h1v1h-1zM26 52h2v1h-2zM40 52h2v1h-2zM45 52h4v1h-4zM55 52h3v1h-3zM6 53h1v1h-1zM17 53h2v1h-2zM32 53h4v1h-4zM9 54h2v1h-2zM14 54h2v1h-2z"/>
<path fill="#0b0b0b" d="M32 7h1v1h-1zM40 16h1v1h-1zM27 17h1v1h-1zM25 22h1v1h-1zM43 23h1v1h-1zM24 24h1v1h-1zM45 26h1v1h-1zM10 27h2v1h-2zM15 27h3v1h-3zM21 27h1v1h-1zM46 27h3v1h-3zM53 27h1v1h-1zM6 28h2v1h-2zM56 28h6v1h-6zM5 29h1v1h-1zM62 29h1v1h-1zM4 31h1v1h-1zM63 31h1v1h-1zM64 35h1v1h-1zM3 36h1v1h-1zM3 44h1v1h-1zM64 47h1v1h-1zM4 49h1v1h-1zM5 51h1v1h-1zM21 51h4v1h-4zM43 51h3v1h-3zM57 51h5v1h-5zM18 52h2v1h-2zM28 52h2v1h-2zM38 52h2v1h-2zM49 52h6v1h-6zM7 53h2v1h-2zM16 53h1v1h-1zM11 54h3v1h-3z"/>
<path fill="#0c0c0c" d="M36 8h1v1h-1zM37 9h1v1h-1zM38 11h1v1h-1zM28 14h1v1h-1zM39 14h1v1h-1zM41 19h1v1h-1zM26 20h1v1h-1zM42 21h1v1h-1zM25 23h1v1h-1zM44 25h1v1h-1zM23 26h1v1h-1zM12 27h3v1h-3zM22 27h1v1h-1zM49 27h1v1h-1zM52 27h1v1h-1zM8 28h2v1h-2zM17 28h4v1h-4zM54 28h2v1h-2zM64 36h1v1h-1zM3 37h1v1h-1zM3 38h1v1h-1zM3 43h1v1h-1zM63 49h1v1h-1zM19 51h2v1h-2zM25 51h2v1h-2zM41 51h2v1h-2zM46 51h4v1h-4zM53 51h4v1h-4zM6 52h1v1h-1zM17 52h1v1h-1zM30 52h1v1h-1zM36 52h2v1h-2zM9 53h1v1h-1zM14 53h2v1h-2z"/>
<path fill="#0d0d0d" d="M33 7h2v1h-2zM30 9h1v1h-1zM29 11h1v1h-1zM40 17h1v1h-1zM27 18h1v1h-1zM26 21h1v1h-1zM43 24h1v1h-1zM24 25h1v1h-1zM45 27h1v1h-1zM50 27h2v1h-2zM10 28h3v1h-3zM14 28h3v1h-3zM21 28h1v1h-1zM47 28h1v1h-1zM6 29h2v1h-2zM56 29h1v1h-1zM61 29h1v1h-1zM5 30h1v1h-1zM62 30h1v1h-1zM4 32h1v1h-1zM63 32h1v1h-1zM3 39h1v1h-1zM3 40h1v1h-1zM3 41h1v1h-1zM3 42h1v1h-1zM64 46h1v1h-1zM4 48h1v1h-1zM5 50h1v1h-1zM20 50h4v1h-4zM45 50h2v1h-2zM56 50h4v1h-4zM62 50h1v1h-1zM6 51h1v1h-1zM17 51h2v1h-2zM27 51h1v1h-1zM40 51h1v1h-1zM50 51h3v1h-3zM7 52h1v1h-1zM15 52h2v1h-2zM31 52h5v1h-5zM10 53h4v1h-4z"/>
<path fill="#0e0e0e" d="M31 8h1v1h-1zM28 15h1v1h-1zM39 15h1v1h-1zM41 20h1v1h-1zM42 22h1v1h-1zM25 24h1v1h-1zM44 26h1v1h-1zM13 28h1v1h-1zM46 28h1v1h-1zM48 28h1v1h-1zM53 28h1v1h-1zM8 29h1v1h-1zM17 29h4v1h-4zM55 29h1v1h-1zM57 29h4v1h-4zM4 33h1v1h-1zM63 33h1v1h-1zM64 37h1v1h-1zM18 50h2v1h-2zM24 50h1v1h-1zM42 50h3v1h-3zM47 50h9v1h-9zM60 50h2v1h-2zM16 51h1v1h-1zM28 51h1v1h-1zM39 51h1v1h-1zM8 52h2v1h-2zM13 52h2v1h-2z"/>
<path fill="#0f0f0f" d="M38 12h1v1h-1zM40 18h1v1h-1zM27 19h1v1h-1zM26 22h1v1h-1zM43 25h1v1h-1zM24 26h1v1h-1zM23 27h1v1h-1zM22 28h1v1h-1zM45 28h1v1h-1zM49 28h1v1h-1zM9 29h8v1h-8zM21 29h1v1h-1zM54 29h1v1h-1zM6 30h1v1h-1zM5 31h1v1h-1zM64 38h1v1h-1zM64 45h1v1h-1zM4 47h1v1h-1zM63 48h1v1h-1zM5 49h1v1h-1zM54 49h6v1h-6zM16 50h2v1h-2zM25 50h2v1h-2zM41 50h1v1h-1zM7 51h1v1h-1zM14 51h2v1h-2zM29 51h1v1h-1zM38 51h1v1h-1zM10 52h3v1h-3z"/>
<path fill="#101010" d="M29 12h1v1h-1zM28 16h1v1h-1zM42 23h1v1h-1zM44 27h1v1h-1zM52 28h1v1h-1zM46 29h2v1h-2zM7 30h2v1h-2zM17 30h4v1h-4zM55 30h4v1h-4zM60 30h2v1h-2zM62 31h1v1h-1zM4 34h1v1h-1zM63 34h1v1h-1zM16 49h8v1h-8zM44 49h10v1h-10zM62 49h1v1h-1zM6 50h1v1h-1zM14 50h2v1h-2zM40 50h1v1h-1zM8 51h6v1h-6zM30 51h1v1h-1zM36 51h2v1h-2z"/>
<path fill="#111111" d="M39 16h1v1h-1zM41 21h1v1h-1zM26 23h1v1h-1zM25 25h1v1h-1zM43 26h1v1h-1zM23 28h1v1h-1zM50 28h2v1h-2zM48 29h1v1h-1zM53 29h1v1h-1zM9 30h8v1h-8zM59 30h1v1h-1zM6 31h1v1h-1zM5 32h1v1h-1zM64 39h1v1h-1zM64 44h1v1h-1zM4 46h1v1h-1zM55 48h4v1h-4zM14 49h2v1h-2zM24 49h1v1h-1zM42 49h2v1h-2zM60 49h2v1h-2zM7 50h1v1h-1zM12 50h2v1h-2zM27 50h1v1h-1zM39 50h1v1h-1zM31 51h5v1h-5z"/>
<path fill="#121212" d="M37 10h1v1h-1zM38 13h1v1h-1zM40 19h1v1h-1zM27 20h1v1h-1zM42 24h1v1h-1zM24 27h1v1h-1zM44 28h1v1h-1zM22 29h1v1h-1zM45 29h1v1h-1zM21 30h1v1h-1zM54 30h1v1h-1zM7 31h1v1h-1zM13 31h1v1h-1zM18 31h2v1h-2zM56 31h1v1h-1zM61 31h1v1h-1zM62 32h1v1h-1zM4 35h1v1h-1zM63 35h1v1h-1zM64 40h1v1h-1zM64 41h1v1h-1zM64 42h1v1h-1zM64 43h1v1h-1zM63 47h1v1h-1zM5 48h1v1h-1zM14 48h8v1h-8zM46 48h2v1h-2zM52 48h3v1h-3zM59 48h1v1h-1zM13 49h1v1h-1zM25 49h1v1h-1zM8 50h1v1h-1zM10 50h2v1h-2zM28 50h1v1h-1z"/>
<path fill="#131313" d="M32 8h1v1h-1zM35 8h1v1h-1zM29 13h1v1h-1zM41 22h1v1h-1zM25 26h1v1h-1zM43 27h1v1h-1zM49 29h1v1h-1zM46 30h2v1h-2zM8 31h1v1h-1zM11 31h2v1h-2zM14 31h4v1h-4zM20 31h1v1h-1zM55 31h1v1h-1zM57 31h4v1h-4zM6 32h1v1h-1zM5 33h1v1h-1zM4 36h1v1h-1zM4 45h1v1h-1zM55 47h4v1h-4zM13 48h1v1h-1zM22 48h2v1h-2zM44 48h2v1h-2zM48 48h4v1h-4zM6 49h1v1h-1zM12 49h1v1h-1zM26 49h1v1h-1zM41 49h1v1h-1zM9 50h1v1h-1zM29 50h1v1h-1zM38 50h1v1h-1z"/>
<path fill="#141414" d="M30 10h1v1h-1zM38 14h1v1h-1zM28 17h1v1h-1zM39 17h1v1h-1zM27 21h1v1h-1zM26 24h1v1h-1zM42 25h1v1h-1zM44 29h1v1h-1zM52 29h1v1h-1zM45 30h1v1h-1zM48 30h1v1h-1zM53 30h1v1h-1zM9 31h2v1h-2zM54 31h1v1h-1zM7 32h1v1h-1zM12 32h3v1h-3zM56 32h1v1h-1zM61 32h1v1h-1zM62 33h1v1h-1zM63 36h1v1h-1zM14 47h7v1h-7zM53 47h2v1h-2zM59 47h1v1h-1zM12 48h1v1h-1zM24 48h1v1h-1zM43 48h1v1h-1zM60 48h1v1h-1zM62 48h1v1h-1zM11 49h1v1h-1zM40 49h1v1h-1zM37 50h1v1h-1z"/>
<path fill="#151515" d="M36 9h1v1h-1zM40 20h1v1h-1zM41 23h1v1h-1zM24 28h1v1h-1zM23 29h1v1h-1zM50 29h2v1h-2zM22 30h1v1h-1zM21 31h1v1h-1zM8 32h1v1h-1zM11 32h1v1h-1zM15 32h6v1h-6zM55 32h1v1h-1zM57 32h2v1h-2zM60 32h1v1h-1zM6 33h1v1h-1zM5 34h1v1h-1zM4 37h1v1h-1zM4 44h1v1h-1zM56 46h2v1h-2zM5 47h1v1h-1zM13 47h1v1h-1zM21 47h2v1h-2zM45 47h3v1h-3zM52 47h1v1h-1zM42 48h1v1h-1zM61 48h1v1h-1zM7 49h1v1h-1zM10 49h1v1h-1zM27 49h1v1h-1zM30 50h1v1h-1zM36 50h1v1h-1z"/>
<path fill="#161616" d="M26 25h1v1h-1zM25 27h1v1h-1zM43 28h1v1h-1zM46 31h2v1h-2zM9 32h2v1h-2zM54 32h1v1h-1zM59 32h1v1h-1zM13 33h1v1h-1zM56 33h1v1h-1zM62 34h1v1h-1zM4 38h1v1h-1zM4 39h1v1h-1zM4 43h1v1h-1zM14 46h5v1h-5zM54 46h2v1h-2zM58 46h1v1h-1zM63 46h1v1h-1zM23 47h1v1h-1zM44 47h1v1h-1zM48 47h4v1h-4zM6 48h1v1h-1zM11 48h1v1h-1zM25 48h1v1h-1zM41 48h1v1h-1zM8 49h2v1h-2zM39 49h1v1h-1zM31 50h2v1h-2zM35 50h1v1h-1z"/>
<path fill="#171717" d="M33 8h2v1h-2zM31 9h1v1h-1zM29 14h1v1h-1zM38 15h1v1h-1zM28 18h1v1h-1zM27 22h1v1h-1zM42 26h1v1h-1zM44 30h1v1h-1zM49 30h1v1h-1zM52 30h1v1h-1zM45 31h1v1h-1zM48 31h1v1h-1zM53 31h1v1h-1zM21 32h1v1h-1zM7 33h1v1h-1zM12 33h1v1h-1zM14 33h1v1h-1zM19 33h1v1h-1zM55 33h1v1h-1zM57 33h2v1h-2zM61 33h1v1h-1zM5 35h1v1h-1zM63 37h1v1h-1zM4 40h1v1h-1zM4 41h1v1h-1zM4 42h1v1h-1zM13 46h1v1h-1zM19 46h2v1h-2zM53 46h1v1h-1zM59 46h1v1h-1zM12 47h1v1h-1zM43 47h1v1h-1zM60 47h1v1h-1zM28 49h1v1h-1zM38 49h1v1h-1zM33 50h2v1h-2z"/>
<path fill="#181818" d="M39 18h1v1h-1zM40 21h1v1h-1zM41 24h1v1h-1zM43 29h1v1h-1zM22 31h1v1h-1zM8 33h1v1h-1zM11 33h1v1h-1zM15 33h1v1h-1zM18 33h1v1h-1zM20 33h1v1h-1zM54 33h1v1h-1zM59 33h2v1h-2zM6 34h1v1h-1zM15 45h2v1h-2zM55 45h4v1h-4zM5 46h1v1h-1zM21 46h1v1h-1zM24 47h1v1h-1zM42 47h1v1h-1zM62 47h1v1h-1zM26 48h1v1h-1zM40 48h1v1h-1zM29 49h1v1h-1z"/>
<path fill="#191919" d="M37 11h1v1h-1zM27 23h1v1h-1zM26 26h1v1h-1zM42 27h1v1h-1zM25 28h1v1h-1zM24 29h1v1h-1zM23 30h1v1h-1zM50 30h2v1h-2zM44 31h1v1h-1zM46 32h2v1h-2zM53 32h1v1h-1zM9 33h2v1h-2zM16 33h2v1h-2zM7 34h1v1h-1zM12 34h2v1h-2zM55 34h4v1h-4zM61 34h1v1h-1zM62 35h1v1h-1zM5 36h1v1h-1zM63 38h1v1h-1zM14 45h1v1h-1zM17 45h2v1h-2zM54 45h1v1h-1zM63 45h1v1h-1zM22 46h1v1h-1zM45 46h4v1h-4zM52 46h1v1h-1zM11 47h1v1h-1zM61 47h1v1h-1zM7 48h1v1h-1zM10 48h1v1h-1zM37 49h1v1h-1z"/>
<path fill="#1a1a1a" d="M29 15h1v1h-1zM28 19h1v1h-1zM49 31h1v1h-1zM52 31h1v1h-1zM45 32h1v1h-1zM48 32h1v1h-1zM21 33h1v1h-1zM11 34h1v1h-1zM14 34h1v1h-1zM54 34h1v1h-1zM59 34h2v1h-2zM6 35h1v1h-1zM57 44h1v1h-1zM13 45h1v1h-1zM19 45h2v1h-2zM59 45h1v1h-1zM12 46h1v1h-1zM23 46h1v1h-1zM44 46h1v1h-1zM49 46h3v1h-3zM60 46h1v1h-1zM6 47h1v1h-1zM25 47h1v1h-1zM41 47h1v1h-1zM9 48h1v1h-1zM27 48h1v1h-1zM30 49h1v1h-1z"/>
<path fill="#1b1b1b" d="M30 11h1v1h-1zM38 16h1v1h-1zM39 19h1v1h-1zM40 22h1v1h-1zM41 25h1v1h-1zM43 30h1v1h-1zM22 32h1v1h-1zM47 33h1v1h-1zM53 33h1v1h-1zM8 34h1v1h-1zM10 34h1v1h-1zM19 34h2v1h-2zM7 35h1v1h-1zM12 35h2v1h-2zM55 35h4v1h-4zM62 36h1v1h-1zM5 37h1v1h-1zM63 39h1v1h-1zM15 44h2v1h-2zM55 44h2v1h-2zM58 44h1v1h-1zM63 44h1v1h-1zM5 45h1v1h-1zM21 45h1v1h-1zM53 45h1v1h-1zM43 46h1v1h-1zM8 48h1v1h-1zM39 48h1v1h-1zM36 49h1v1h-1z"/>
<path fill="#1c1c1c" d="M27 24h1v1h-1zM26 27h1v1h-1zM42 28h1v1h-1zM50 31h2v1h-2zM44 32h1v1h-1zM49 32h1v1h-1zM52 32h1v1h-1zM46 33h1v1h-1zM48 33h1v1h-1zM9 34h1v1h-1zM15 34h1v1h-1zM18 34h1v1h-1zM53 34h1v1h-1zM11 35h1v1h-1zM54 35h1v1h-1zM59 35h3v1h-3zM6 36h1v1h-1zM56 36h2v1h-2zM57 43h1v1h-1zM14 44h1v1h-1zM17 44h2v1h-2zM54 44h1v1h-1zM22 45h1v1h-1zM46 45h1v1h-1zM52 45h1v1h-1zM24 46h1v1h-1zM42 46h1v1h-1zM62 46h1v1h-1zM10 47h1v1h-1zM26 47h1v1h-1zM28 48h1v1h-1zM31 49h1v1h-1zM35 49h1v1h-1z"/>
<path fill="#1d1d1d" d="M25 29h1v1h-1zM24 30h1v1h-1zM23 31h1v1h-1zM43 31h1v1h-1zM45 33h1v1h-1zM49 33h1v1h-1zM16 34h2v1h-2zM21 34h1v1h-1zM8 35h1v1h-1zM10 35h1v1h-1zM14 35h1v1h-1zM53 35h1v1h-1zM7 36h1v1h-1zM12 36h1v1h-1zM54 36h2v1h-2zM58 36h2v1h-2zM5 38h1v1h-1zM63 40h1v1h-1zM56 43h1v1h-1zM58 43h1v1h-1zM63 43h1v1h-1zM13 44h1v1h-1zM19 44h2v1h-2zM59 44h1v1h-1zM12 45h1v1h-1zM44 45h2v1h-2zM47 45h1v1h-1zM11 46h1v1h-1zM61 46h1v1h-1zM7 47h1v1h-1zM40 47h1v1h-1zM38 48h1v1h-1zM32 49h3v1h-3z"/>
<path fill="#1e1e1e" d="M37 12h1v1h-1zM29 16h1v1h-1zM28 20h1v1h-1zM40 23h1v1h-1zM41 26h1v1h-1zM42 29h1v1h-1zM50 32h2v1h-2zM44 33h1v1h-1zM52 33h1v1h-1zM46 34h3v1h-3zM9 35h1v1h-1zM19 35h2v1h-2zM11 36h1v1h-1zM13 36h1v1h-1zM60 36h2v1h-2zM6 37h1v1h-1zM56 37h3v1h-3zM62 37h1v1h-1zM5 39h1v1h-1zM63 41h1v1h-1zM57 42h2v1h-2zM63 42h1v1h-1zM14 43h3v1h-3zM55 43h1v1h-1zM5 44h1v1h-1zM21 44h1v1h-1zM53 44h1v1h-1zM23 45h1v1h-1zM48 45h1v1h-1zM51 45h1v1h-1zM60 45h1v1h-1zM6 46h1v1h-1zM25 46h1v1h-1zM27 47h1v1h-1zM29 48h1v1h-1z"/>
<path fill="#1f1f1f" d="M39 20h1v1h-1zM27 25h1v1h-1zM26 28h1v1h-1zM22 33h1v1h-1zM50 33h2v1h-2zM45 34h1v1h-1zM49 34h1v1h-1zM52 34h1v1h-1zM15 35h1v1h-1zM8 36h3v1h-3zM53 36h1v1h-1zM7 37h1v1h-1zM12 37h1v1h-1zM54 37h2v1h-2zM59 37h1v1h-1zM57 38h2v1h-2zM5 40h1v1h-1zM56 42h1v1h-1zM5 43h1v1h-1zM13 43h1v1h-1zM17 43h2v1h-2zM54 43h1v1h-1zM59 43h1v1h-1zM12 44h1v1h-1zM43 45h1v1h-1zM49 45h2v1h-2zM41 46h1v1h-1zM8 47h2v1h-2z"/>
<path fill="#202020" d="M35 9h1v1h-1zM38 17h1v1h-1zM43 32h1v1h-1zM50 34h2v1h-2zM18 35h1v1h-1zM21 35h1v1h-1zM46 35h3v1h-3zM52 35h1v1h-1zM14 36h1v1h-1zM20 36h1v1h-1zM8 37h1v1h-1zM11 37h1v1h-1zM13 37h1v1h-1zM60 37h1v1h-1zM6 38h1v1h-1zM55 38h2v1h-2zM59 38h1v1h-1zM57 39h2v1h-2zM57 40h2v1h-2zM5 41h1v1h-1zM56 41h3v1h-3zM5 42h1v1h-1zM55 42h1v1h-1zM59 42h1v1h-1zM19 43h2v1h-2zM22 44h1v1h-1zM45 44h2v1h-2zM52 44h1v1h-1zM11 45h1v1h-1zM24 45h1v1h-1zM42 45h1v1h-1zM62 45h1v1h-1zM39 47h1v1h-1zM37 48h1v1h-1z"/>
<path fill="#212121" d="M32 9h1v1h-1zM36 10h1v1h-1zM30 12h1v1h-1zM28 21h1v1h-1zM40 24h1v1h-1zM41 27h1v1h-1zM42 30h1v1h-1zM23 32h1v1h-1zM44 34h1v1h-1zM16 35h2v1h-2zM45 35h1v1h-1zM49 35h3v1h-3zM19 36h1v1h-1zM52 36h1v1h-1zM9 37h2v1h-2zM53 37h1v1h-1zM61 37h1v1h-1zM7 38h1v1h-1zM11 38h2v1h-2zM54 38h1v1h-1zM62 38h1v1h-1zM55 39h2v1h-2zM59 39h1v1h-1zM56 40h1v1h-1zM59 40h1v1h-1zM55 41h1v1h-1zM59 41h1v1h-1zM13 42h4v1h-4zM54 42h1v1h-1zM12 43h1v1h-1zM21 43h1v1h-1zM53 43h1v1h-1zM44 44h1v1h-1zM47 44h1v1h-1zM60 44h1v1h-1zM61 45h1v1h-1zM10 46h1v1h-1zM26 46h1v1h-1zM28 47h1v1h-1zM30 48h1v1h-1z"/>
<path fill="#222222" d="M37 13h1v1h-1zM27 26h1v1h-1zM25 30h1v1h-1zM24 31h1v1h-1zM43 33h1v1h-1zM21 36h1v1h-1zM45 36h4v1h-4zM14 37h1v1h-1zM20 37h1v1h-1zM8 38h1v1h-1zM10 38h1v1h-1zM13 38h1v1h-1zM60 38h1v1h-1zM6 39h1v1h-1zM12 39h1v1h-1zM54 39h1v1h-1zM55 40h1v1h-1zM13 41h1v1h-1zM17 42h4v1h-4zM23 44h1v1h-1zM43 44h1v1h-1zM48 44h1v1h-1zM51 44h1v1h-1zM6 45h1v1h-1zM7 46h1v1h-1zM40 46h1v1h-1zM36 48h1v1h-1z"/>
<path fill="#232323" d="M31 10h1v1h-1zM39 21h1v1h-1zM26 29h1v1h-1zM42 31h1v1h-1zM22 34h1v1h-1zM44 35h1v1h-1zM15 36h1v1h-1zM18 36h1v1h-1zM49 36h3v1h-3zM19 37h1v1h-1zM46 37h1v1h-1zM52 37h1v1h-1zM9 38h1v1h-1zM53 38h1v1h-1zM7 39h1v1h-1zM11 39h1v1h-1zM13 39h1v1h-1zM60 39h1v1h-1zM12 40h2v1h-2zM54 40h1v1h-1zM12 41h1v1h-1zM14 41h1v1h-1zM54 41h1v1h-1zM12 42h1v1h-1zM21 42h1v1h-1zM22 43h1v1h-1zM45 43h2v1h-2zM60 43h1v1h-1zM11 44h1v1h-1zM49 44h2v1h-2zM25 45h1v1h-1zM41 45h1v1h-1zM38 47h1v1h-1zM31 48h1v1h-1z"/>
<path fill="#242424" d="M29 17h1v1h-1zM40 25h1v1h-1zM41 28h1v1h-1zM43 34h1v1h-1zM44 36h1v1h-1zM21 37h1v1h-1zM45 37h1v1h-1zM47 37h2v1h-2zM14 38h1v1h-1zM20 38h1v1h-1zM61 38h1v1h-1zM10 39h1v1h-1zM53 39h1v1h-1zM62 39h1v1h-1zM6 40h1v1h-1zM11 40h1v1h-1zM14 40h1v1h-1zM15 41h1v1h-1zM19 41h2v1h-2zM53 42h1v1h-1zM44 43h1v1h-1zM47 43h1v1h-1zM52 43h1v1h-1zM42 44h1v1h-1zM62 44h1v1h-1zM9 46h1v1h-1zM27 46h1v1h-1zM32 48h1v1h-1zM35 48h1v1h-1z"/>
<path fill="#252525" d="M37 14h1v1h-1zM38 18h1v1h-1zM28 22h1v1h-1zM27 27h1v1h-1zM23 33h1v1h-1zM16 36h2v1h-2zM15 37h1v1h-1zM49 37h1v1h-1zM51 37h1v1h-1zM19 38h1v1h-1zM45 38h2v1h-2zM52 38h1v1h-1zM8 39h2v1h-2zM14 39h1v1h-1zM20 39h1v1h-1zM19 40h2v1h-2zM53 40h1v1h-1zM60 40h1v1h-1zM11 41h1v1h-1zM16 41h3v1h-3zM21 41h1v1h-1zM53 41h1v1h-1zM60 41h1v1h-1zM11 42h1v1h-1zM45 42h2v1h-2zM60 42h1v1h-1zM11 43h1v1h-1zM6 44h1v1h-1zM24 44h1v1h-1zM61 44h1v1h-1zM10 45h1v1h-1zM8 46h1v1h-1zM29 47h1v1h-1zM33 48h2v1h-2z"/>
<path fill="#262626" d="M30 13h1v1h-1zM41 29h1v1h-1zM42 32h1v1h-1zM22 35h1v1h-1zM43 35h1v1h-1zM18 37h1v1h-1zM44 37h1v1h-1zM50 37h1v1h-1zM21 38h1v1h-1zM47 38h1v1h-1zM19 39h1v1h-1zM21 39h1v1h-1zM45 39h2v1h-2zM61 39h1v1h-1zM7 40h1v1h-1zM10 40h1v1h-1zM15 40h1v1h-1zM18 40h1v1h-1zM21 40h1v1h-1zM62 40h1v1h-1zM6 41h1v1h-1zM45 41h2v1h-2zM22 42h1v1h-1zM44 42h1v1h-1zM47 42h1v1h-1zM23 43h1v1h-1zM43 43h1v1h-1zM48 43h1v1h-1zM51 43h1v1h-1zM62 43h1v1h-1zM26 45h1v1h-1zM39 46h1v1h-1zM37 47h1v1h-1z"/>
<path fill="#272727" d="M39 22h1v1h-1zM28 23h1v1h-1zM26 30h1v1h-1zM25 31h1v1h-1zM24 32h1v1h-1zM16 37h1v1h-1zM15 38h1v1h-1zM18 38h1v1h-1zM44 38h1v1h-1zM48 38h1v1h-1zM51 38h1v1h-1zM15 39h1v1h-1zM18 39h1v1h-1zM47 39h1v1h-1zM52 39h1v1h-1zM8 40h2v1h-2zM16 40h2v1h-2zM45 40h2v1h-2zM62 41h1v1h-1zM6 42h1v1h-1zM52 42h1v1h-1zM62 42h1v1h-1zM6 43h1v1h-1zM49 43h1v1h-1zM61 43h1v1h-1zM7 45h1v1h-1zM40 45h1v1h-1zM30 47h1v1h-1z"/>
<path fill="#282828" d="M33 9h2v1h-2zM40 26h1v1h-1zM27 28h1v1h-1zM42 33h1v1h-1zM22 36h1v1h-1zM43 36h1v1h-1zM17 37h1v1h-1zM49 38h2v1h-2zM44 39h1v1h-1zM44 40h1v1h-1zM47 40h1v1h-1zM52 40h1v1h-1zM61 40h1v1h-1zM10 41h1v1h-1zM22 41h1v1h-1zM44 41h1v1h-1zM47 41h1v1h-1zM52 41h1v1h-1zM43 42h1v1h-1zM48 42h1v1h-1zM42 43h1v1h-1zM50 43h1v1h-1zM10 44h1v1h-1zM25 44h1v1h-1zM41 44h1v1h-1zM28 46h1v1h-1z"/>
<path fill="#292929" d="M29 18h1v1h-1zM41 30h1v1h-1zM43 37h1v1h-1zM16 38h2v1h-2zM16 39h2v1h-2zM48 39h1v1h-1zM51 39h1v1h-1zM7 41h1v1h-1zM61 41h1v1h-1zM10 42h1v1h-1zM23 42h1v1h-1zM51 42h1v1h-1zM61 42h1v1h-1zM10 43h1v1h-1zM24 43h1v1h-1zM8 45h2v1h-2zM38 46h1v1h-1zM36 47h1v1h-1z"/>
<path fill="#2a2a2a" d="M37 15h1v1h-1zM38 19h1v1h-1zM39 23h1v1h-1zM28 24h1v1h-1zM23 34h1v1h-1zM42 34h1v1h-1zM22 37h1v1h-1zM43 38h1v1h-1zM49 39h1v1h-1zM22 40h1v1h-1zM43 40h1v1h-1zM48 40h1v1h-1zM8 41h2v1h-2zM43 41h1v1h-1zM48 41h1v1h-1zM49 42h1v1h-1zM7 44h1v1h-1zM27 45h1v1h-1zM31 47h1v1h-1z"/>
<path fill="#2b2b2b" d="M30 14h1v1h-1zM40 27h1v1h-1zM22 38h1v1h-1zM22 39h1v1h-1zM43 39h1v1h-1zM50 39h1v1h-1zM51 40h1v1h-1zM51 41h1v1h-1zM7 42h1v1h-1zM42 42h1v1h-1zM50 42h1v1h-1zM7 43h1v1h-1zM35 47h1v1h-1z"/>
<path fill="#2c2c2c" d="M27 29h1v1h-1zM26 31h1v1h-1zM41 31h1v1h-1zM25 32h1v1h-1zM24 33h1v1h-1zM42 35h1v1h-1zM49 40h2v1h-2zM23 41h1v1h-1zM49 41h2v1h-2zM9 42h1v1h-1zM41 43h1v1h-1zM9 44h1v1h-1zM26 44h1v1h-1zM40 44h1v1h-1zM39 45h1v1h-1zM29 46h1v1h-1zM32 47h1v1h-1zM34 47h1v1h-1z"/>
<path fill="#2d2d2d" d="M36 11h1v1h-1zM28 25h1v1h-1zM23 35h1v1h-1zM42 41h1v1h-1zM8 42h1v1h-1zM9 43h1v1h-1zM25 43h1v1h-1zM8 44h1v1h-1zM33 47h1v1h-1z"/>
<path fill="#2e2e2e" d="M39 24h1v1h-1zM40 28h1v1h-1zM42 36h1v1h-1zM24 42h1v1h-1zM8 43h1v1h-1zM37 46h1v1h-1z"/>
<path fill="#2f2f2f" d="M37 16h1v1h-1zM29 19h1v1h-1zM27 30h1v1h-1zM41 32h1v1h-1zM42 37h1v1h-1zM42 38h1v1h-1zM42 39h1v1h-1zM23 40h1v1h-1zM42 40h1v1h-1zM28 45h1v1h-1z"/>
<path fill="#303030" d="M30 15h1v1h-1zM38 20h1v1h-1zM28 26h1v1h-1zM26 32h1v1h-1zM23 36h1v1h-1zM41 42h1v1h-1zM27 44h1v1h-1zM30 46h1v1h-1z"/>
<path fill="#313131" d="M31 11h1v1h-1zM25 33h1v1h-1zM41 33h1v1h-1zM24 34h1v1h-1zM23 37h1v1h-1zM23 39h1v1h-1zM26 43h1v1h-1zM38 45h1v1h-1zM36 46h1v1h-1z"/>
<path fill="#323232" d="M39 25h1v1h-1zM40 29h1v1h-1zM23 38h1v1h-1zM24 41h1v1h-1zM25 42h1v1h-1zM40 43h1v1h-1zM39 44h1v1h-1z"/>
<path fill="#333333" d="M32 10h1v1h-1zM35 10h1v1h-1zM28 27h1v1h-1zM27 31h1v1h-1zM41 34h1v1h-1zM41 41h1v1h-1zM31 46h1v1h-1z"/>
<path fill="#343434" d="M29 20h1v1h-1zM29 45h1v1h-1zM35 46h1v1h-1z"/>
<path fill="#353535" d="M38 21h1v1h-1zM40 30h1v1h-1zM26 33h1v1h-1zM24 35h1v1h-1zM41 35h1v1h-1zM24 40h1v1h-1zM41 40h1v1h-1zM32 46h1v1h-1z"/>
<path fill="#363636" d="M39 26h1v1h-1zM28 28h1v1h-1zM25 34h1v1h-1zM41 36h1v1h-1zM41 39h1v1h-1zM25 41h1v1h-1zM26 42h1v1h-1zM40 42h1v1h-1zM27 43h1v1h-1zM28 44h1v1h-1zM37 45h1v1h-1zM33 46h2v1h-2z"/>
<path fill="#373737" d="M36 12h1v1h-1zM30 16h1v1h-1zM37 17h1v1h-1zM27 32h1v1h-1zM41 37h1v1h-1zM41 38h1v1h-1z"/>
<path fill="#383838" d="M40 31h1v1h-1zM24 36h1v1h-1zM24 39h1v1h-1zM38 44h1v1h-1z"/>
<path fill="#393939" d="M29 21h1v1h-1zM38 22h1v1h-1zM26 34h1v1h-1zM24 37h1v1h-1zM24 38h1v1h-1zM39 43h1v1h-1zM30 45h1v1h-1z"/>
<path fill="#3a3a3a" d="M39 27h1v1h-1zM28 29h1v1h-1zM25 35h1v1h-1zM25 40h1v1h-1zM26 41h1v1h-1zM40 41h1v1h-1z"/>
<path fill="#3b3b3b" d="M31 12h1v1h-1zM40 32h1v1h-1zM27 33h1v1h-1zM27 42h1v1h-1zM36 45h1v1h-1z"/>
<path fill="#3c3c3c" d="M36 13h1v1h-1zM28 43h1v1h-1zM29 44h1v1h-1z"/>
<path fill="#3d3d3d" d="M29 22h1v1h-1zM38 23h1v1h-1zM28 30h1v1h-1zM26 35h1v1h-1zM25 36h1v1h-1zM25 39h1v1h-1zM31 45h1v1h-1z"/>
<path fill="#3e3e3e" d="M39 28h1v1h-1zM40 33h1v1h-1zM25 37h1v1h-1zM25 38h1v1h-1zM26 40h1v1h-1zM40 40h1v1h-1z"/>
<path fill="#3f3f3f" d="M37 18h1v1h-1zM27 34h1v1h-1zM26 36h1v1h-1zM39 42h1v1h-1zM37 44h1v1h-1zM35 45h1v1h-1z"/>
<path fill="#404040" d="M33 10h2v1h-2zM36 14h1v1h-1zM30 17h1v1h-1zM29 23h1v1h-1zM40 34h1v1h-1zM26 39h1v1h-1zM40 39h1v1h-1zM27 41h1v1h-1zM38 43h1v1h-1zM32 45h1v1h-1z"/>
<path fill="#414141" d="M38 24h1v1h-1zM28 31h1v1h-1zM26 37h1v1h-1zM26 38h1v1h-1zM33 45h2v1h-2z"/>
<path fill="#424242" d="M31 13h1v1h-1zM39 29h1v1h-1zM27 35h1v1h-1zM40 35h1v1h-1zM40 38h1v1h-1zM28 42h1v1h-1zM30 44h1v1h-1z"/>
<path fill="#434343" d="M29 24h1v1h-1zM40 36h1v1h-1zM40 37h1v1h-1zM27 40h1v1h-1zM29 43h1v1h-1z"/>
<path fill="#444444" d="M28 32h1v1h-1zM39 41h1v1h-1z"/>
<path fill="#454545" d="M36 15h1v1h-1zM38 25h1v1h-1zM27 36h1v1h-1zM27 39h1v1h-1zM36 44h1v1h-1z"/>
<path fill="#464646" d="M35 11h1v1h-1zM29 25h1v1h-1zM39 30h1v1h-1zM27 37h1v1h-1zM27 38h1v1h-1z"/>
<path fill="#474747" d="M32 11h1v1h-1zM31 14h1v1h-1zM37 19h1v1h-1zM28 41h1v1h-1zM38 42h1v1h-1zM31 44h1v1h-1z"/>
<path fill="#484848" d="M29 26h1v1h-1zM28 33h1v1h-1zM37 43h1v1h-1z"/>
<path fill="#494949" d="M30 18h1v1h-1zM38 26h1v1h-1zM39 40h1v1h-1z"/>
<path fill="#4a4a4a" d="M29 27h1v1h-1zM39 31h1v1h-1zM35 44h1v1h-1z"/>
<path fill="#4b4b4b" d="M28 34h1v1h-1zM28 40h1v1h-1zM29 42h1v1h-1zM30 43h1v1h-1zM32 44h1v1h-1z"/>
<path fill="#4d4d4d" d="M36 16h1v1h-1zM38 27h1v1h-1zM29 28h1v1h-1zM39 32h1v1h-1zM39 39h1v1h-1zM33 44h2v1h-2z"/>
<path fill="#4e4e4e" d="M28 35h1v1h-1zM28 39h1v1h-1z"/>
<path fill="#4f4f4f" d="M31 15h1v1h-1zM37 20h1v1h-1zM29 29h1v1h-1zM38 41h1v1h-1z"/>
<path fill="#505050" d="M39 33h1v1h-1zM28 36h1v1h-1zM28 37h1v1h-1zM28 38h1v1h-1zM39 38h1v1h-1zM36 43h1v1h-1z"/>
<path fill="#515151" d="M30 19h1v1h-1zM38 28h1v1h-1zM29 41h1v1h-1z"/>
<path fill="#525252" d="M37 42h1v1h-1zM31 43h1v1h-1z"/>
<path fill="#535353" d="M29 30h1v1h-1zM39 34h1v1h-1zM39 37h1v1h-1z"/>
<path fill="#545454" d="M35 12h1v1h-1zM39 35h1v1h-1zM39 36h1v1h-1zM30 42h1v1h-1z"/>
<path fill="#555555" d="M32 12h1v1h-1zM37 21h1v1h-1z"/>
<path fill="#565656" d="M38 29h1v1h-1zM29 31h1v1h-1zM38 40h1v1h-1z"/>
<path fill="#575757" d="M29 40h1v1h-1zM32 43h1v1h-1zM35 43h1v1h-1z"/>
<path fill="#585858" d="M33 11h2v1h-2zM31 16h1v1h-1z"/>
<path fill="#595959" d="M36 17h1v1h-1zM30 20h1v1h-1zM29 32h1v1h-1z"/>
<path fill="#5b5b5b" d="M35 13h1v1h-1zM37 22h1v1h-1zM38 30h1v1h-1zM33 43h2v1h-2z"/>
<path fill="#5c5c5c" d="M29 39h1v1h-1zM38 39h1v1h-1zM37 41h1v1h-1z"/>
<path fill="#5d5d5d" d="M32 13h1v1h-1zM29 33h1v1h-1zM30 41h1v1h-1zM31 42h1v1h-1zM36 42h1v1h-1z"/>
<path fill="#5f5f5f" d="M35 14h1v1h-1zM37 23h1v1h-1zM29 38h1v1h-1z"/>
<path fill="#606060" d="M30 21h1v1h-1zM38 31h1v1h-1zM29 34h1v1h-1z"/>
<path fill="#616161" d="M29 35h1v1h-1zM29 37h1v1h-1zM38 38h1v1h-1z"/>
<path fill="#626262" d="M29 36h1v1h-1z"/>
<path fill="#636363" d="M32 14h1v1h-1zM37 24h1v1h-1z"/>
<path fill="#646464" d="M38 32h1v1h-1z"/>
<path fill="#656565" d="M35 15h1v1h-1zM31 17h1v1h-1zM36 18h1v1h-1zM30 22h1v1h-1zM30 40h1v1h-1zM32 42h1v1h-1zM35 42h1v1h-1z"/>
<path fill="#666666" d="M38 37h1v1h-1z"/>
<path fill="#676767" d="M37 25h1v1h-1zM37 40h1v1h-1z"/>
<path fill="#686868" d="M38 33h1v1h-1z"/>
<path fill="#696969" d="M33 12h2v1h-2zM30 23h1v1h-1zM31 41h1v1h-1z"/>
<path fill="#6a6a6a" d="M37 26h1v1h-1zM38 34h1v1h-1zM38 36h1v1h-1zM36 41h1v1h-1zM33 42h2v1h-2z"/>
<path fill="#6b6b6b" d="M32 15h1v1h-1zM30 24h1v1h-1zM38 35h1v1h-1z"/>
<path fill="#6d6d6d" d="M30 25h1v1h-1zM37 27h1v1h-1zM30 39h1v1h-1z"/>
<path fill="#6f6f6f" d="M35 16h1v1h-1zM30 26h1v1h-1z"/>
<path fill="#707070" d="M30 27h1v1h-1z"/>
<path fill="#717171" d="M34 13h1v1h-1zM36 19h1v1h-1zM30 28h1v1h-1zM37 28h1v1h-1zM37 39h1v1h-1z"/>
<path fill="#727272" d="M33 13h1v1h-1zM30 29h1v1h-1z"/>
<path fill="#737373" d="M31 18h1v1h-1zM30 30h1v1h-1zM30 38h1v1h-1zM32 41h1v1h-1z"/>
<path fill="#757575" d="M34 14h1v1h-1zM31 40h1v1h-1zM35 41h1v1h-1z"/>
<path fill="#767676" d="M33 14h1v1h-1zM32 16h1v1h-1zM37 29h1v1h-1zM30 31h1v1h-1z"/>
<path fill="#787878" d="M36 40h1v1h-1z"/>
<path fill="#797979" d="M30 32h1v1h-1zM30 37h1v1h-1z"/>
<path fill="#7a7a7a" d="M37 38h1v1h-1zM33 41h1v1h-1z"/>
<path fill="#7b7b7b" d="M37 30h1v1h-1zM34 41h1v1h-1z"/>
<path fill="#7c7c7c" d="M36 20h1v1h-1zM30 33h1v1h-1z"/>
<path fill="#7d7d7d" d="M34 15h1v1h-1zM30 36h1v1h-1z"/>
<path fill="#7e7e7e" d="M33 15h1v1h-1zM30 34h1v1h-1z"/>
<path fill="#7f7f7f" d="M35 17h1v1h-1zM30 35h1v1h-1z"/>
<path fill="#808080" d="M31 19h1v1h-1z"/>
<path fill="#818181" d="M37 31h1v1h-1zM31 39h1v1h-1z"/>
<path fill="#828282" d="M37 37h1v1h-1zM32 40h1v1h-1z"/>
<path fill="#848484" d="M36 21h1v1h-1z"/>
<path fill="#878787" d="M32 17h1v1h-1zM37 32h1v1h-1zM36 39h1v1h-1zM35 40h1v1h-1z"/>
<path fill="#898989" d="M34 16h1v1h-1zM37 36h1v1h-1z"/>
<path fill="#8b8b8b" d="M33 16h1v1h-1zM31 20h1v1h-1zM36 22h1v1h-1zM37 33h1v1h-1zM31 38h1v1h-1z"/>
<path fill="#8d8d8d" d="M37 35h1v1h-1zM33 40h1v1h-1z"/>
<path fill="#8e8e8e" d="M37 34h1v1h-1z"/>
<path fill="#8f8f8f" d="M36 23h1v1h-1zM34 40h1v1h-1z"/>
<path fill="#909090" d="M35 18h1v1h-1z"/>
<path fill="#939393" d="M36 24h1v1h-1zM32 39h1v1h-1z"/>
<path fill="#949494" d="M31 21h1v1h-1zM36 38h1v1h-1z"/>
<path fill="#969696" d="M31 37h1v1h-1z"/>
<path fill="#979797" d="M36 25h1v1h-1z"/>
<path fill="#999999" d="M32 18h1v1h-1z"/>
<path fill="#9a9a9a" d="M36 26h1v1h-1zM35 39h1v1h-1z"/>
<path fill="#9b9b9b" d="M34 17h1v1h-1zM31 22h1v1h-1z"/>
<path fill="#9d9d9d" d="M36 27h1v1h-1z"/>
<path fill="#9e9e9e" d="M33 17h1v1h-1zM31 36h1v1h-1z"/>
<path fill="#9f9f9f" d="M31 23h1v1h-1zM36 28h1v1h-1zM31 30h1v1h-1z"/>
<path fill="#a0a0a0" d="M35 19h1v1h-1zM31 31h1v1h-1zM33 39h1v1h-1z"/>
<path fill="#a1a1a1" d="M31 24h1v1h-1zM31 29h1v1h-1zM36 29h1v1h-1zM32 38h1v1h-1z"/>
<path fill="#a2a2a2" d="M31 32h1v1h-1zM36 37h1v1h-1z"/>
<path fill="#a3a3a3" d="M31 25h1v1h-1zM31 28h1v1h-1zM31 35h1v1h-1z"/>
<path fill="#a4a4a4" d="M31 33h1v1h-1zM34 39h1v1h-1z"/>
<path fill="#a5a5a5" d="M31 26h1v1h-1zM31 27h1v1h-1zM36 30h1v1h-1zM31 34h1v1h-1z"/>
<path fill="#aaaaaa" d="M32 19h1v1h-1zM36 31h1v1h-1z"/>
<path fill="#ababab" d="M35 38h1v1h-1z"/>
<path fill="#adadad" d="M36 36h1v1h-1z"/>
<path fill="#aeaeae" d="M35 20h1v1h-1z"/>
<path fill="#afafaf" d="M34 18h1v1h-1z"/>
<path fill="#b0b0b0" d="M36 32h1v1h-1zM32 37h1v1h-1z"/>
<path fill="#b2b2b2" d="M33 38h1v1h-1z"/>
<path fill="#b3b3b3" d="M33 18h1v1h-1z"/>
<path fill="#b4b4b4" d="M36 35h1v1h-1z"/>
<path fill="#b5b5b5" d="M36 33h1v1h-1z"/>
<path fill="#b7b7b7" d="M36 34h1v1h-1zM34 38h1v1h-1z"/>
<path fill="#b8b8b8" d="M32 20h1v1h-1z"/>
<path fill="#b9b9b9" d="M35 21h1v1h-1z"/>
<path fill="#bcbcbc" d="M32 36h1v1h-1z"/>
<path fill="#bdbdbd" d="M35 37h1v1h-1z"/>
<path fill="#c1c1c1" d="M35 22h1v1h-1z"/>
<path fill="#c3c3c3" d="M34 19h1v1h-1zM32 21h1v1h-1z"/>
<path fill="#c5c5c5" d="M32 35h1v1h-1zM33 37h1v1h-1z"/>
<path fill="#c6c6c6" d="M33 19h1v1h-1zM35 23h1v1h-1z"/>
<path fill="#c7c7c7" d="M32 31h1v1h-1zM32 32h1v1h-1z"/>
<path fill="#c9c9c9" d="M32 30h1v1h-1zM32 33h1v1h-1zM32 34h1v1h-1z"/>
<path fill="#cacaca" d="M35 24h1v1h-1z"/>
<path fill="#cbcbcb" d="M32 22h1v1h-1zM34 37h1v1h-1z"/>
<path fill="#cccccc" d="M35 36h1v1h-1z"/>
<path fill="#cfcfcf" d="M32 23h1v1h-1zM35 25h1v1h-1zM32 29h1v1h-1z"/>
<path fill="#d0d0d0" d="M35 30h1v1h-1z"/>
<path fill="#d2d2d2" d="M35 29h1v1h-1zM35 31h1v1h-1z"/>
<path fill="#d3d3d3" d="M34 20h1v1h-1zM32 24h1v1h-1zM35 26h1v1h-1z"/>
<path fill="#d5d5d5" d="M35 28h1v1h-1zM33 36h1v1h-1z"/>
<path fill="#d6d6d6" d="M35 27h1v1h-1zM32 28h1v1h-1zM35 32h1v1h-1zM35 35h1v1h-1z"/>
<path fill="#d7d7d7" d="M33 20h1v1h-1zM32 25h1v1h-1z"/>
<path fill="#dadada" d="M32 26h1v1h-1zM35 33h1v1h-1z"/>
<path fill="#dbdbdb" d="M32 27h1v1h-1zM35 34h1v1h-1z"/>
<path fill="#dcdcdc" d="M34 36h1v1h-1z"/>
<path fill="#dfdfdf" d="M34 21h1v1h-1z"/>
<path fill="#e1e1e1" d="M33 35h1v1h-1z"/>
<path fill="#e3e3e3" d="M33 21h1v1h-1z"/>
<path fill="#e6e6e6" d="M33 31h1v1h-1zM33 32h1v1h-1zM33 34h1v1h-1z"/>
<path fill="#e7e7e7" d="M33 33h1v1h-1z"/>
<path fill="#e8e8e8" d="M34 22h1v1h-1zM34 35h1v1h-1z"/>
<path fill="#ebebeb" d="M33 22h1v1h-1zM33 30h1v1h-1zM34 31h1v1h-1z"/>
<path fill="#ececec" d="M34 32h1v1h-1z"/>
<path fill="#ededed" d="M34 23h1v1h-1z"/>
<path fill="#eeeeee" d="M34 30h1v1h-1zM34 33h1v1h-1zM34 34h1v1h-1z"/>
<path fill="#f1f1f1" d="M33 23h1v1h-1z"/>
<path fill="#f3f3f3" d="M34 24h1v1h-1z"/>
<path fill="#f5f5f5" d="M33 29h1v1h-1z"/>
<path fill="#f6f6f6" d="M33 24h1v1h-1zM34 29h1v1h-1z"/>
<path fill="#fafafa" d="M34 25h1v1h-1z"/>
<path fill="#fdfdfd" d="M33 25h1v1h-1z"/>
<path fill="#ffffff" d="M33 26h2v1h-2zM33 27h2v1h-2zM33 28h2v1h-2z"/>
</g></g>
<path d="M211.5 47.81V580.24M408.5 47.81V580.24" stroke="#fff" stroke-width="1" fill="none"/>
</g>
<path class="gd" clip-path="url(#hc)" stroke-dashoffset="2.06" d="M268.13 47.81V580.24M382.07 47.81V580.24"/>
<path class="rd" clip-path="url(#hc)" d="M59.76 451.73H592.19"/>
</g>
<g transform="translate(640,0)">
<rect class="b" x="59.76" y="47.81" width="532.43" height="532.43"/>
<path class="b" d="M108.06 580.24H542.14M108.06 580.24v6M216.58 580.24v6M325.1 580.24v6M433.62 580.24v6M542.14 580.24v6M59.76 506.81V47.81M59.76 506.81h-6M59.76 415.01h-6M59.76 323.21h-6M59.76 231.41h-6M59.76 139.61h-6M59.76 47.81h-6"/>
<text class="k" x="108.06" y="602.04">-400</text>
<text class="k" x="216.58" y="602.04">-200</text>
<text class="k" x="325.1" y="602.04">0</text>
<text class="k" x="433.62" y="602.04">200</text>
<text class="k" x="542.14" y="602.04">400</text>
<text class="k" transform="translate(44.76,507.71) rotate(-90)">75</text>
<text class="k" transform="translate(44.76,415.91) rotate(-90)">80</text>
<text class="k" transform="translate(44.76,324.11) rotate(-90)">85</text>
<text class="k" transform="translate(44.76,232.31) rotate(-90)">90</text>
<text class="k" transform="translate(44.76,140.51) rotate(-90)">95</text>
<text class="k" transform="translate(44.76,48.71) rotate(-90)">100</text>
<text class="t" x="326.5" y="32" textLength="332.5" lengthAdjust="spacingAndGlyphs">Density heat map for the top hits</text>
<text class="l" x="326.1" y="626.3" textLength="173.5" lengthAdjust="spacingAndGlyphs">Distance to peak summit</text>
<text class="l" transform="translate(22.3,314.4) rotate(-90)" textLength="76.8" lengthAdjust="spacingAndGlyphs">Motif score</text>
</g>
<g transform="translate(0,640)">
<path class="w" d="M79.5 560.3L81.8 560.4L83.6 560.4L85.5 560.4L87.5 560.3L89.5 560.2L91.5 560.1L93.5 559.9L95.5 559.7L97.5 559.5L99.5 559.2L101.4 558.9L103.4 558.6L105.4 558.3L107.4 558L109.3 557.6L111.3 557.3L113.3 556.9L115.2 556.6L117.2 556.2L119.2 555.9L121.2 555.6L123.1 555.3L125.1 555L127.1 554.7L129.1 554.5L131.1 554.2L133.1 553.9L135 553.6L137 553.2L138.9 552.7L140.9 552.2L142.7 551.5L144.6 550.8L146.4 549.9L148.2 549L149.9 548L151.6 546.8L153.1 545.6L154.7 544.3L156.1 542.9L157.5 541.5L158.9 540L160.2 538.5L161.4 536.9L162.6 535.3L163.8 533.7L164.9 532L166 530.3L167 528.6L168.1 526.9L169.1 525.2L170.1 523.5L171.2 521.8L172.2 520L173.2 518.3L174.2 516.6L175.2 514.8L176.1 513.1L177.1 511.4L178.1 509.6L179.1 507.9L180.1 506.1L181 504.4L182 502.6L183 500.9L183.9 499.1L184.9 497.4L185.8 495.6L186.8 493.8L187.7 492.1L188.6 490.3L189.5 488.5L190.4 486.7L191.2 484.9L192.1 483.1L192.9 481.2L193.7 479.4L194.5 477.6L195.3 475.7L196 473.9L196.7 472L197.4 470.1L198.1 468.3L198.8 466.4L199.4 464.5L200.1 462.6L200.7 460.7L201.3 458.8L201.9 456.9L202.5 455L203 453L203.6 451.1L204.2 449.2L204.7 447.3L205.3 445.3L205.8 443.4L206.3 441.5L206.9 439.6L207.4 437.6L207.9 435.7L208.4 433.8L208.9 431.8L209.4 429.9L209.9 428L210.4 426L210.9 424.1L211.3 422.1L211.8 420.2L212.2 418.2L212.6 416.3L213 414.3L213.4 412.4L213.8 410.4L214.2 408.4L214.6 406.5L214.9 404.5L215.3 402.5L215.7 400.6L216 398.6L216.4 396.6L216.7 394.6L217 392.7L217.4 390.7L217.7 388.7L218.1 386.8L218.4 384.8L218.7 382.8L219.1 380.8L219.4 378.9L219.7 376.9L220.1 374.9L220.4 373L220.7 371L221 369L221.4 367L221.7 365.1L222 363.1L222.3 361.1L222.6 359.1L223 357.2L223.3 355.2L223.6 353.2L223.9 351.2L224.2 349.3L224.5 347.3L224.8 345.3L225.1 343.3L225.4 341.4L225.8 339.4L226.1 337.4L226.4 335.4L226.7 333.5L227 331.5L227.3 329.5L227.7 327.5L228 325.6L228.3 323.6L228.6 321.6L229 319.6L229.3 317.7L229.6 315.7L229.9 313.7L230.3 311.7L230.6 309.8L230.9 307.8L231.2 305.8L231.6 303.9L231.9 301.9L232.2 299.9L232.5 297.9L232.8 296L233.1 294L233.4 292L233.7 290L234 288L234.3 286.1L234.6 284.1L234.9 282.1L235.2 280.1L235.5 278.1L235.8 276.2L236.1 274.2L236.4 272.2L236.7 270.2L237 268.3L237.3 266.3L237.6 264.3L237.9 262.3L238.2 260.4L238.6 258.4L238.9 256.4L239.2 254.4L239.6 252.5L239.9 250.5L240.3 248.5L240.6 246.6L241 244.6L241.3 242.6L241.7 240.7L242.1 238.7L242.4 236.7L242.8 234.8L243.2 232.8L243.6 230.8L244 228.9L244.4 226.9L244.8 225L245.2 223L245.6 221L246 219.1L246.4 217.1L246.9 215.2L247.3 213.2L247.8 211.3L248.3 209.4L248.8 207.4L249.3 205.5L249.9 203.6L250.4 201.6L251 199.7L251.6 197.8L252.1 195.9L252.8 194L253.4 192.1L254 190.2L254.7 188.3L255.4 186.4L256.1 184.6L256.9 182.7L257.6 180.9L258.4 179L259.1 177.2L259.9 175.3L260.6 173.4L261.4 171.6L262.1 169.7L262.8 167.9L263.5 166L264.3 164.1L265 162.3L265.6 160.4L266.3 158.5L267 156.6L267.7 154.7L268.3 152.8L269 151L269.6 149.1L270.2 147.2L270.8 145.3L271.5 143.3L272.1 141.4L272.6 139.5L273.2 137.6L273.8 135.7L274.3 133.8L274.9 131.8L275.5 129.9L276 128L276.6 126.1L277.1 124.2L277.7 122.2L278.3 120.3L278.9 118.4L279.5 116.5L280.1 114.6L280.7 112.7L281.3 110.8L281.9 108.9L282.6 107L283.2 105.1L283.9 103.2L284.5 101.3L285.2 99.5L285.9 97.6L286.6 95.7L287.3 93.8L288.1 92L288.8 90.1L289.7 88.3L290.5 86.5L291.4 84.7L292.4 83L293.4 81.3L294.5 79.6L295.6 77.9L296.7 76.2L297.8 74.6L299.1 73L300.4 71.5L301.8 70.1L303.4 68.9L305.1 68L306.9 67.5L308.8 67.6L310.6 68.3L312.1 69.5L313.3 71L314.4 72.7L315.3 74.5L316.1 76.3L317 78.2L317.7 80L318.5 81.8L319.2 83.7L319.8 85.6L320.5 87.5L321.1 89.4L321.7 91.3L322.3 93.2L322.9 95.1L323.6 97L324.2 98.9L324.8 100.8L325.5 102.7L326.1 104.6L326.8 106.5L327.4 108.4L328.1 110.2L328.8 112.1L329.6 114L330.4 115.8L331.2 117.6L332.1 119.4L333 121.2L333.9 123L334.9 124.7L335.8 126.5L336.8 128.2L337.8 130L338.7 131.7L339.7 133.5L340.6 135.3L341.6 137L342.5 138.8L343.4 140.6L344.3 142.4L345.1 144.2L346 146L346.8 147.8L347.6 149.6L348.5 151.5L349.3 153.3L350.1 155.1L350.8 157L351.6 158.8L352.4 160.6L353.2 162.5L354 164.3L354.8 166.2L355.6 168L356.4 169.8L357.1 171.7L357.9 173.5L358.7 175.4L359.5 177.2L360.3 179L361.1 180.9L361.9 182.7L362.6 184.5L363.4 186.4L364.2 188.2L365 190.1L365.8 191.9L366.6 193.7L367.4 195.6L368.2 197.4L369 199.2L369.8 201.1L370.6 202.9L371.4 204.7L372.1 206.6L372.9 208.5L373.6 210.3L374.3 212.2L375 214.1L375.7 215.9L376.4 217.8L377 219.7L377.6 221.6L378.3 223.5L378.9 225.4L379.5 227.3L380 229.2L380.6 231.2L381.2 233.1L381.7 235L382.3 236.9L382.8 238.9L383.3 240.8L383.8 242.7L384.3 244.7L384.8 246.6L385.3 248.5L385.8 250.5L386.3 252.4L386.7 254.4L387.2 256.3L387.7 258.3L388.2 260.2L388.7 262.1L389.1 264.1L389.6 266L390.1 268L390.6 269.9L391.1 271.8L391.6 273.8L392.1 275.7L392.5 277.7L393 279.6L393.5 281.5L394 283.5L394.5 285.4L394.9 287.4L395.4 289.3L395.9 291.3L396.4 293.2L396.8 295.1L397.3 297.1L397.8 299L398.3 300.9L398.9 302.9L399.4 304.8L399.9 306.7L400.5 308.7L401 310.6L401.6 312.5L402.2 314.4L402.7 316.3L403.3 318.3L403.8 320.2L404.3 322.1L404.8 324L405.4 326L405.9 327.9L406.4 329.8L406.9 331.8L407.5 333.7L408 335.6L408.6 337.5L409.2 339.4L409.9 341.3L410.5 343.2L411.2 345.1L411.8 347L412.5 348.9L413.2 350.7L414 352.6L414.7 354.5L415.4 356.3L416.2 358.2L416.9 360L417.7 361.9L418.4 363.8L419.2 365.6L419.9 367.5L420.7 369.3L421.4 371.2L422.1 373L422.9 374.9L423.6 376.8L424.2 378.7L424.9 380.5L425.6 382.4L426.2 384.3L426.8 386.2L427.4 388.1L428 390L428.6 392L429.2 393.9L429.8 395.8L430.4 397.7L430.9 399.6L431.5 401.5L432.1 403.5L432.6 405.4L433.2 407.3L433.8 409.2L434.3 411.1L434.9 413L435.5 415L436.1 416.9L436.7 418.8L437.3 420.7L437.9 422.6L438.5 424.5L439.1 426.4L439.7 428.3L440.4 430.2L441 432.1L441.7 434L442.3 435.9L443 437.8L443.7 439.6L444.3 441.5L445 443.4L445.7 445.3L446.4 447.2L447.1 449L447.9 450.9L448.6 452.7L449.3 454.6L450.1 456.4L450.8 458.3L451.6 460.1L452.4 461.9L453.3 463.7L454.3 465.5L455.3 467.3L456.4 469L457.6 470.6L458.9 472.1L460.3 473.4L462 474.5L463.7 475.4L465.6 476.2L467.5 476.9L469.3 477.6L471.2 478.4L472.9 479.4L474.5 480.6L475.9 481.9L477.2 483.4L478.4 485.1L479.5 486.8L480.6 488.5L481.5 490.3L482.4 492L483.3 493.8L484.2 495.6L485 497.4L485.8 499.3L486.6 501.1L487.4 502.9L488.2 504.8L489 506.6L489.8 508.4L490.6 510.3L491.3 512.1L492.1 514L492.9 515.8L493.6 517.7L494.4 519.5L495.2 521.4L496 523.2L496.8 525L497.7 526.8L498.5 528.6L499.4 530.4L500.3 532.2L501.3 533.9L502.3 535.7L503.3 537.4L504.4 539.1L505.5 540.8L506.6 542.4L507.9 544L509.2 545.5L510.6 546.9L512.1 548.2L513.7 549.5L515.3 550.6L517.1 551.6L518.9 552.4L520.7 553.2L522.6 553.9L524.5 554.5L526.4 555L528.4 555.4L530.3 555.9L532.3 556.2L534.3 556.6L536.3 556.9L538.2 557.3L540.2 557.6L542.2 558L544.1 558.3L546.1 558.6L548.1 558.9L550.1 559.2L552.1 559.4L554 559.6L556 559.8L558 559.9L560 560L562 560.1L564 560.1L566 560.2L568 560.2L569.8 560.2L571.3 560.3L572.6 560.3Z"/>
<path class="c" d="M79.5 560.3L81.8 560.4L83.6 560.4L85.5 560.4L87.5 560.3L89.5 560.2L91.5 560.1L93.5 559.9L95.5 559.7L97.5 559.5L99.5 559.2L101.4 558.9L103.4 558.6L105.4 558.3L107.4 558L109.3 557.6L111.3 557.3L113.3 556.9L115.2 556.6L117.2 556.2L119.2 555.9L121.2 555.6L123.1 555.3L125.1 555L127.1 554.7L129.1 554.5L131.1 554.2L133.1 553.9L135 553.6L137 553.2L138.9 552.7L140.9 552.2L142.7 551.5L144.6 550.8L146.4 549.9L148.2 549L149.9 548L151.6 546.8L153.1 545.6L154.7 544.3L156.1 542.9L157.5 541.5L158.9 540L160.2 538.5L161.4 536.9L162.6 535.3L163.8 533.7L164.9 532L166 530.3L167 528.6L168.1 526.9L169.1 525.2L170.1 523.5L171.2 521.8L172.2 520L173.2 518.3L174.2 516.6L175.2 514.8L176.1 513.1L177.1 511.4L178.1 509.6L179.1 507.9L180.1 506.1L181 504.4L182 502.6L183 500.9L183.9 499.1L184.9 497.4L185.8 495.6L186.8 493.8L187.7 492.1L188.6 490.3L189.5 488.5L190.4 486.7L191.2 484.9L192.1 483.1L192.9 481.2L193.7 479.4L194.5 477.6L195.3 475.7L196 473.9L196.7 472L197.4 470.1L198.1 468.3L198.8 466.4L199.4 464.5L200.1 462.6L200.7 460.7L201.3 458.8L201.9 456.9L202.5 455L203 453L203.6 451.1L204.2 449.2L204.7 447.3L205.3 445.3L205.8 443.4L206.3 441.5L206.9 439.6L207.4 437.6L207.9 435.7L208.4 433.8L208.9 431.8L209.4 429.9L209.9 428L210.4 426L210.9 424.1L211.3 422.1L211.8 420.2L212.2 418.2L212.6 416.3L213 414.3L213.4 412.4L213.8 410.4L214.2 408.4L214.6 406.5L214.9 404.5L215.3 402.5L215.7 400.6L216 398.6L216.4 396.6L216.7 394.6L217 392.7L217.4 390.7L217.7 388.7L218.1 386.8L218.4 384.8L218.7 382.8L219.1 380.8L219.4 378.9L219.7 376.9L220.1 374.9L220.4 373L220.7 371L221 369L221.4 367L221.7 365.1L222 363.1L222.3 361.1L222.6 359.1L223 357.2L223.3 355.2L223.6 353.2L223.9 351.2L224.2 349.3L224.5 347.3L224.8 345.3L225.1 343.3L225.4 341.4L225.8 339.4L226.1 337.4L226.4 335.4L226.7 333.5L227 331.5L227.3 329.5L227.7 327.5L228 325.6L228.3 323.6L228.6 321.6L229 319.6L229.3 317.7L229.6 315.7L229.9 313.7L230.3 311.7L230.6 309.8L230.9 307.8L231.2 305.8L231.6 303.9L231.9 301.9L232.2 299.9L232.5 297.9L232.8 296L233.1 294L233.4 292L233.7 290L234 288L234.3 286.1L234.6 284.1L234.9 282.1L235.2 280.1L235.5 278.1L235.8 276.2L236.1 274.2L236.4 272.2L236.7 270.2L237 268.3L237.3 266.3L237.6 264.3L237.9 262.3L238.2 260.4L238.6 258.4L238.9 256.4L239.2 254.4L239.6 252.5L239.9 250.5L240.3 248.5L240.6 246.6L241 244.6L241.3 242.6L241.7 240.7L242.1 238.7L242.4 236.7L242.8 234.8L243.2 232.8L243.6 230.8L244 228.9L244.4 226.9L244.8 225L245.2 223L245.6 221L246 219.1L246.4 217.1L246.9 215.2L247.3 213.2L247.8 211.3L248.3 209.4L248.8 207.4L249.3 205.5L249.9 203.6L250.4 201.6L251 199.7L251.6 197.8L252.1 195.9L252.8 194L253.4 192.1L254 190.2L254.7 188.3L255.4 186.4L256.1 184.6L256.9 182.7L257.6 180.9L258.4 179L259.1 177.2L259.9 175.3L260.6 173.4L261.4 171.6L262.1 169.7L262.8 167.9L263.5 166L264.3 164.1L265 162.3L265.6 160.4L266.3 158.5L267 156.6L267.7 154.7L268.3 152.8L269 151L269.6 149.1L270.2 147.2L270.8 145.3L271.5 143.3L272.1 141.4L272.6 139.5L273.2 137.6L273.8 135.7L274.3 133.8L274.9 131.8L275.5 129.9L276 128L276.6 126.1L277.1 124.2L277.7 122.2L278.3 120.3L278.9 118.4L279.5 116.5L280.1 114.6L280.7 112.7L281.3 110.8L281.9 108.9L282.6 107L283.2 105.1L283.9 103.2L284.5 101.3L285.2 99.5L285.9 97.6L286.6 95.7L287.3 93.8L288.1 92L288.8 90.1L289.7 88.3L290.5 86.5L291.4 84.7L292.4 83L293.4 81.3L294.5 79.6L295.6 77.9L296.7 76.2L297.8 74.6L299.1 73L300.4 71.5L301.8 70.1L303.4 68.9L305.1 68L306.9 67.5L308.8 67.6L310.6 68.3L312.1 69.5L313.3 71L314.4 72.7L315.3 74.5L316.1 76.3L317 78.2L317.7 80L318.5 81.8L319.2 83.7L319.8 85.6L320.5 87.5L321.1 89.4L321.7 91.3L322.3 93.2L322.9 95.1L323.6 97L324.2 98.9L324.8 100.8L325.5 102.7L326.1 104.6L326.8 106.5L327.4 108.4L328.1 110.2L328.8 112.1L329.6 114L330.4 115.8L331.2 117.6L332.1 119.4L333 121.2L333.9 123L334.9 124.7L335.8 126.5L336.8 128.2L337.8 130L338.7 131.7L339.7 133.5L340.6 135.3L341.6 137L342.5 138.8L343.4 140.6L344.3 142.4L345.1 144.2L346 146L346.8 147.8L347.6 149.6L348.5 151.5L349.3 153.3L350.1 155.1L350.8 157L351.6 158.8L352.4 160.6L353.2 162.5L354 164.3L354.8 166.2L355.6 168L356.4 169.8L357.1 171.7L357.9 173.5L358.7 175.4L359.5 177.2L360.3 179L361.1 180.9L361.9 182.7L362.6 184.5L363.4 186.4L364.2 188.2L365 190.1L365.8 191.9L366.6 193.7L367.4 195.6L368.2 197.4L369 199.2L369.8 201.1L370.6 202.9L371.4 204.7L372.1 206.6L372.9 208.5L373.6 210.3L374.3 212.2L375 214.1L375.7 215.9L376.4 217.8L377 219.7L377.6 221.6L378.3 223.5L378.9 225.4L379.5 227.3L380 229.2L380.6 231.2L381.2 233.1L381.7 235L382.3 236.9L382.8 238.9L383.3 240.8L383.8 242.7L384.3 244.7L384.8 246.6L385.3 248.5L385.8 250.5L386.3 252.4L386.7 254.4L387.2 256.3L387.7 258.3L388.2 260.2L388.7 262.1L389.1 264.1L389.6 266L390.1 268L390.6 269.9L391.1 271.8L391.6 273.8L392.1 275.7L392.5 277.7L393 279.6L393.5 281.5L394 283.5L394.5 285.4L394.9 287.4L395.4 289.3L395.9 291.3L396.4 293.2L396.8 295.1L397.3 297.1L397.8 299L398.3 300.9L398.9 302.9L399.4 304.8L399.9 306.7L400.5 308.7L401 310.6L401.6 312.5L402.2 314.4L402.7 316.3L403.3 318.3L403.8 320.2L404.3 322.1L404.8 324L405.4 326L405.9 327.9L406.4 329.8L406.9 331.8L407.5 333.7L408 335.6L408.6 337.5L409.2 339.4L409.9 341.3L410.5 343.2L411.2 345.1L411.8 347L412.5 348.9L413.2 350.7L414 352.6L414.7 354.5L415.4 356.3L416.2 358.2L416.9 360L417.7 361.9L418.4 363.8L419.2 365.6L419.9 367.5L420.7 369.3L421.4 371.2L422.1 373L422.9 374.9L423.6 376.8L424.2 378.7L424.9 380.5L425.6 382.4L426.2 384.3L426.8 386.2L427.4 388.1L428 390L428.6 392L429.2 393.9L429.8 395.8L430.4 397.7L430.9 399.6L431.5 401.5L432.1 403.5L432.6 405.4L433.2 407.3L433.8 409.2L434.3 411.1L434.9 413L435.5 415L436.1 416.9L436.7 418.8L437.3 420.7L437.9 422.6L438.5 424.5L439.1 426.4L439.7 428.3L440.4 430.2L441 432.1L441.7 434L442.3 435.9L443 437.8L443.7 439.6L444.3 441.5L445 443.4L445.7 445.3L446.4 447.2L447.1 449L447.9 450.9L448.6 452.7L449.3 454.6L450.1 456.4L450.8 458.3L451.6 460.1L452.4 461.9L453.3 463.7L454.3 465.5L455.3 467.3L456.4 469L457.6 470.6L458.9 472.1L460.3 473.4L462 474.5L463.7 475.4L465.6 476.2L467.5 476.9L469.3 477.6L471.2 478.4L472.9 479.4L474.5 480.6L475.9 481.9L477.2 483.4L478.4 485.1L479.5 486.8L480.6 488.5L481.5 490.3L482.4 492L483.3 493.8L484.2 495.6L485 497.4L485.8 499.3L486.6 501.1L487.4 502.9L488.2 504.8L489 506.6L489.8 508.4L490.6 510.3L491.3 512.1L492.1 514L492.9 515.8L493.6 517.7L494.4 519.5L495.2 521.4L496 523.2L496.8 525L497.7 526.8L498.5 528.6L499.4 530.4L500.3 532.2L501.3 533.9L502.3 535.7L503.3 537.4L504.4 539.1L505.5 540.8L506.6 542.4L507.9 544L509.2 545.5L510.6 546.9L512.1 548.2L513.7 549.5L515.3 550.6L517.1 551.6L518.9 552.4L520.7 553.2L522.6 553.9L524.5 554.5L526.4 555L528.4 555.4L530.3 555.9L532.3 556.2L534.3 556.6L536.3 556.9L538.2 557.3L540.2 557.6L542.2 558L544.1 558.3L546.1 558.6L548.1 558.9L550.1 559.2L552.1 559.4L554 559.6L556 559.8L558 559.9L560 560L562 560.1L564 560.1L566 560.2L568 560.2L569.8 560.2L571.3 560.3L572.6 560.3Z"/>
<path class="rd" clip-path="url(#hc)" stroke-dashoffset="1.6" d="M217.76 47.81V580.24"/>
</g>
<g transform="translate(0,640)">
<rect class="b" x="59.76" y="47.81" width="532.43" height="532.43"/>
<path class="b" d="M102.4 580.24H535M102.4 580.24v6M174.5 580.24v6M246.6 580.24v6M318.7 580.24v6M390.8 580.24v6M462.9 580.24v6M535 580.24v6M59.76 560.5V77.62M59.76 560.5h-6M59.76 439.78h-6M59.76 319.06h-6M59.76 198.34h-6M59.76 77.62h-6"/>
<text class="k" x="102.4" y="602.04">70</text>
<text class="k" x="174.5" y="602.04">75</text>
<text class="k" x="246.6" y="602.04">80</text>
<text class="k" x="318.7" y="602.04">85</text>
<text class="k" x="390.8" y="602.04">90</text>
<text class="k" x="462.9" y="602.04">95</text>
<text class="k" x="535" y="602.04">100</text>
<text class="k" transform="translate(44.76,561.4) rotate(-90)">0.00</text>
<text class="k" transform="translate(44.76,440.68) rotate(-90)">0.02</text>
<text class="k" transform="translate(44.76,319.96) rotate(-90)">0.04</text>
<text class="k" transform="translate(44.76,199.24) rotate(-90)">0.06</text>
<text class="k" transform="translate(44.76,78.52) rotate(-90)">0.08</text>
<text class="t" x="326.4" y="32" textLength="296.6" lengthAdjust="spacingAndGlyphs">Motif score threshold: 78.000</text>
<text class="l" x="325.6" y="626.3" textLength="77" lengthAdjust="spacingAndGlyphs">Motif score</text>
<text class="l" transform="translate(22.3,314.4) rotate(-90)" textLength="53.6" lengthAdjust="spacingAndGlyphs">Density</text>
</g>
<g transform="translate(640,640)">
<path class="w" d="M79.5 560.3L81.5 560.2L83.4 560.1L85.4 559.9L87.5 559.5L89.4 559L91.3 558.3L93.1 557.4L94.7 556.3L96.2 555L97.6 553.5L98.9 551.9L100.1 550.3L101.3 548.7L102.4 547L103.5 545.3L104.5 543.6L105.6 541.9L106.6 540.2L107.6 538.5L108.7 536.8L109.8 535.1L110.9 533.5L112.1 531.8L113.2 530.2L114.5 528.7L115.8 527.1L117.1 525.6L118.5 524.2L119.9 522.8L121.4 521.4L122.9 520.2L124.5 518.9L126.1 517.7L127.7 516.4L129.2 515.2L130.7 513.9L132.2 512.5L133.6 511.1L135 509.7L136.5 508.4L138.1 507.1L139.7 505.9L141.4 504.8L143.2 504L145.1 503.4L147.1 503.1L149.1 503.1L151.1 503.3L153 503.8L154.9 504.5L156.8 505.2L158.6 506L160.4 506.9L162.3 507.6L164.1 508.4L166 509L168 509.5L169.9 510L171.9 510.3L173.9 510.5L175.9 510.6L177.9 510.7L179.9 510.7L181.9 510.8L183.9 510.9L185.9 510.9L187.9 510.8L189.9 510.7L191.9 510.6L193.9 510.4L195.9 510.3L197.9 510.3L199.8 510.5L201.8 510.9L203.8 511.2L205.8 511.6L207.7 511.9L209.7 512.2L211.7 512.2L213.7 512.2L215.7 511.9L217.7 511.6L219.6 511.1L221.6 510.5L223.5 509.8L225.4 509.2L227.3 508.6L229.2 508.2L231.2 507.9L233.1 507.7L235.1 507.4L237.1 507L239.1 506.5L240.9 505.8L242.7 504.8L244.2 503.6L245.7 502.2L247 500.7L248.2 499L249.3 497.4L250.4 495.7L251.4 494L252.4 492.3L253.4 490.5L254.4 488.8L255.5 487.1L256.5 485.4L257.6 483.7L258.6 482L259.8 480.3L260.9 478.7L262.2 477.1L263.5 475.6L264.9 474.2L266.4 472.9L268.1 471.8L269.8 470.8L271.6 469.9L273.4 469L275.2 468.1L276.9 467L278.5 465.9L280 464.6L281.4 463.1L282.7 461.5L283.8 459.9L284.8 458.1L285.7 456.4L286.6 454.6L287.3 452.7L288 450.8L288.7 448.9L289.3 447L289.9 445.1L290.4 443.2L290.9 441.2L291.4 439.3L291.9 437.4L292.4 435.4L292.9 433.5L293.3 431.5L293.7 429.6L294.1 427.6L294.5 425.6L294.9 423.7L295.2 421.7L295.5 419.7L295.8 417.7L296.1 415.8L296.3 413.8L296.5 411.8L296.7 409.8L296.8 407.8L297 405.8L297.1 403.8L297.3 401.8L297.4 399.8L297.6 397.8L297.7 395.8L297.9 393.8L298.1 391.8L298.2 389.8L298.4 387.9L298.6 385.9L298.8 383.9L299 381.9L299.2 379.9L299.4 377.9L299.6 375.9L299.8 373.9L300 371.9L300.2 369.9L300.4 368L300.6 366L300.7 364L300.9 362L301.1 360L301.2 358L301.4 356L301.6 354L301.7 352L301.9 350L302 348L302.2 346L302.3 344L302.5 342L302.6 340L302.8 338.1L302.9 336.1L303.1 334.1L303.2 332.1L303.4 330.1L303.5 328.1L303.7 326.1L303.8 324.1L304 322.1L304.1 320.1L304.3 318.1L304.4 316.1L304.6 314.1L304.7 312.1L304.9 310.1L305 308.1L305.2 306.1L305.4 304.1L305.5 302.2L305.7 300.2L305.8 298.2L306 296.2L306.1 294.2L306.3 292.2L306.4 290.2L306.6 288.2L306.7 286.2L306.9 284.2L307 282.2L307.1 280.2L307.3 278.2L307.4 276.2L307.6 274.2L307.7 272.2L307.8 270.2L307.9 268.2L308.1 266.2L308.2 264.2L308.3 262.2L308.4 260.3L308.6 258.3L308.7 256.3L308.8 254.3L308.9 252.3L309 250.3L309.1 248.3L309.2 246.3L309.4 244.3L309.5 242.3L309.6 240.3L309.7 238.3L309.8 236.3L309.9 234.3L310.1 232.3L310.2 230.3L310.3 228.3L310.4 226.3L310.5 224.3L310.7 222.3L310.8 220.3L310.9 218.3L311 216.3L311.2 214.3L311.3 212.4L311.4 210.4L311.6 208.4L311.7 206.4L311.8 204.4L312 202.4L312.1 200.4L312.3 198.4L312.4 196.4L312.5 194.4L312.7 192.4L312.8 190.4L312.9 188.4L313.1 186.4L313.2 184.4L313.3 182.4L313.5 180.4L313.6 178.4L313.8 176.4L313.9 174.4L314 172.4L314.2 170.4L314.3 168.4L314.4 166.4L314.6 164.4L314.7 162.4L314.8 160.4L315 158.4L315.1 156.4L315.2 154.4L315.3 152.5L315.5 150.5L315.6 148.5L315.7 146.5L315.8 144.6L316 142.6L316.1 140.6L316.2 138.6L316.4 136.7L316.5 134.7L316.6 132.7L316.8 130.7L316.9 128.7L317 126.7L317.2 124.7L317.4 122.7L317.5 120.7L317.7 118.7L317.9 116.6L318 114.6L318.2 112.5L318.4 110.4L318.6 108.3L318.8 106.3L319 104.2L319.2 102.2L319.4 100.2L319.6 98.2L319.9 96.2L320.1 94.3L320.2 92.4L320.4 90.6L320.6 88.9L320.8 87.1L321 85.4L321.2 83.6L321.5 81.7L321.8 79.7L322.2 77.5L322.7 75.2L323.3 72.6L323.9 70.2L324.7 68.4L325.6 67.8L326.5 68.7L327.4 70.8L328.2 73.1L328.8 75.4L329.3 77.6L329.7 79.6L329.9 81.5L330.1 83.3L330.3 85.1L330.5 86.9L330.6 88.7L330.8 90.6L330.9 92.5L331.1 94.4L331.3 96.4L331.5 98.4L331.7 100.4L332 102.5L332.2 104.5L332.4 106.6L332.6 108.6L332.8 110.7L333 112.7L333.2 114.8L333.4 116.8L333.6 118.8L333.7 120.8L333.9 122.8L334.1 124.8L334.2 126.8L334.4 128.8L334.5 130.8L334.7 132.8L334.8 134.7L334.9 136.7L335.1 138.7L335.2 140.7L335.3 142.6L335.5 144.6L335.6 146.6L335.7 148.6L335.9 150.6L336 152.6L336.2 154.5L336.3 156.5L336.5 158.5L336.6 160.5L336.7 162.5L336.9 164.5L337 166.5L337.2 168.5L337.3 170.5L337.5 172.5L337.6 174.5L337.8 176.5L337.9 178.5L338 180.5L338.2 182.5L338.3 184.5L338.5 186.5L338.6 188.5L338.7 190.5L338.9 192.5L339 194.5L339.2 196.5L339.3 198.5L339.4 200.5L339.6 202.5L339.7 204.5L339.9 206.5L340 208.5L340.2 210.5L340.3 212.4L340.5 214.4L340.6 216.4L340.8 218.4L340.9 220.4L341.1 222.4L341.2 224.4L341.4 226.4L341.6 228.4L341.7 230.4L341.9 232.4L342 234.4L342.2 236.4L342.4 238.4L342.5 240.4L342.7 242.3L342.9 244.3L343 246.3L343.2 248.3L343.4 250.3L343.5 252.3L343.7 254.3L343.9 256.3L344 258.3L344.2 260.3L344.3 262.3L344.5 264.3L344.7 266.3L344.8 268.3L345 270.3L345.2 272.2L345.3 274.2L345.5 276.2L345.6 278.2L345.8 280.2L346 282.2L346.1 284.2L346.3 286.2L346.4 288.2L346.6 290.2L346.8 292.2L346.9 294.2L347.1 296.2L347.3 298.2L347.4 300.2L347.6 302.1L347.8 304.1L347.9 306.1L348.1 308.1L348.2 310.1L348.4 312.1L348.6 314.1L348.8 316.1L348.9 318.1L349.1 320.1L349.3 322.1L349.5 324.1L349.6 326.1L349.8 328.1L350 330L350.2 332L350.4 334L350.6 336L350.8 338L351 340L351.1 342L351.3 344L351.5 346L351.7 348L351.9 349.9L352.1 351.9L352.3 353.9L352.6 355.9L352.8 357.9L353 359.9L353.2 361.9L353.4 363.9L353.6 365.9L353.8 367.9L354 369.8L354.2 371.8L354.4 373.8L354.7 375.8L354.9 377.8L355.2 379.8L355.5 381.8L355.8 383.7L356.1 385.7L356.4 387.7L356.8 389.6L357.1 391.6L357.5 393.6L357.9 395.5L358.3 397.5L358.6 399.5L359 401.4L359.4 403.4L359.8 405.4L360.2 407.3L360.7 409.3L361.1 411.2L361.5 413.2L362 415.1L362.4 417.1L362.9 419L363.4 421L363.9 422.9L364.4 424.8L364.9 426.8L365.4 428.7L366 430.6L366.5 432.5L367.1 434.4L367.7 436.4L368.2 438.3L368.8 440.2L369.4 442.1L369.9 444L370.5 446L371.1 447.9L371.7 449.8L372.3 451.7L372.8 453.6L373.5 455.5L374.1 457.4L374.7 459.3L375.3 461.2L376 463.1L376.6 465L377.3 466.9L378 468.8L378.6 470.7L379.3 472.5L380.1 474.4L380.8 476.2L381.6 478.1L382.5 479.9L383.3 481.7L384.3 483.4L385.3 485.2L386.3 486.9L387.4 488.6L388.6 490.2L389.8 491.8L391.2 493.3L392.7 494.6L394.3 495.7L396 496.7L397.8 497.6L399.6 498.6L401.4 499.5L403 500.6L404.7 501.7L406.3 502.9L408 504.1L409.6 505.3L411.3 506.3L413.1 507.2L415 507.8L417 508L419 507.9L420.9 507.5L422.8 506.8L424.6 505.9L426.4 505L428.2 504.1L430 503.3L431.9 502.6L433.8 502.1L435.8 501.8L437.8 501.8L439.8 502.1L441.8 502.5L443.7 503L445.7 503.4L447.7 503.6L449.7 503.7L451.7 503.7L453.7 503.5L455.7 503.5L457.7 503.6L459.6 503.9L461.5 504.4L463.4 505.1L465.3 505.9L467.1 506.8L468.9 507.7L470.6 508.7L472.4 509.6L474.2 510.5L475.9 511.4L477.7 512.3L479.5 513.2L481.3 514.2L483.1 515L484.9 515.8L486.8 516.5L488.7 517L490.7 517.3L492.7 517.5L494.7 517.5L496.7 517.4L498.7 517.3L500.7 517.1L502.7 517L504.7 517L506.7 517.1L508.7 517.3L510.7 517.4L512.7 517.5L514.7 517.5L516.7 517.2L518.6 516.8L520.5 516.2L522.5 515.5L524.4 514.8L526.3 514.2L528.3 513.9L530.2 513.8L532.2 514.2L534.1 515L535.7 516.1L537.1 517.6L538.2 519.2L539.2 521L540.1 522.8L541 524.7L541.8 526.5L542.7 528.3L543.4 530.1L544.2 532L545 533.8L545.8 535.6L546.6 537.4L547.4 539.3L548.2 541.1L549 542.9L549.9 544.7L550.7 546.6L551.6 548.4L552.6 550.1L553.6 551.8L554.8 553.5L556.1 555L557.5 556.4L559.1 557.6L560.8 558.6L562.7 559.4L564.6 559.9L566.6 560.2L568.7 560.4L570.6 560.4L572.5 560.3Z"/>
<path class="c" d="M79.5 560.3L81.5 560.2L83.4 560.1L85.4 559.9L87.5 559.5L89.4 559L91.3 558.3L93.1 557.4L94.7 556.3L96.2 555L97.6 553.5L98.9 551.9L100.1 550.3L101.3 548.7L102.4 547L103.5 545.3L104.5 543.6L105.6 541.9L106.6 540.2L107.6 538.5L108.7 536.8L109.8 535.1L110.9 533.5L112.1 531.8L113.2 530.2L114.5 528.7L115.8 527.1L117.1 525.6L118.5 524.2L119.9 522.8L121.4 521.4L122.9 520.2L124.5 518.9L126.1 517.7L127.7 516.4L129.2 515.2L130.7 513.9L132.2 512.5L133.6 511.1L135 509.7L136.5 508.4L138.1 507.1L139.7 505.9L141.4 504.8L143.2 504L145.1 503.4L147.1 503.1L149.1 503.1L151.1 503.3L153 503.8L154.9 504.5L156.8 505.2L158.6 506L160.4 506.9L162.3 507.6L164.1 508.4L166 509L168 509.5L169.9 510L171.9 510.3L173.9 510.5L175.9 510.6L177.9 510.7L179.9 510.7L181.9 510.8L183.9 510.9L185.9 510.9L187.9 510.8L189.9 510.7L191.9 510.6L193.9 510.4L195.9 510.3L197.9 510.3L199.8 510.5L201.8 510.9L203.8 511.2L205.8 511.6L207.7 511.9L209.7 512.2L211.7 512.2L213.7 512.2L215.7 511.9L217.7 511.6L219.6 511.1L221.6 510.5L223.5 509.8L225.4 509.2L227.3 508.6L229.2 508.2L231.2 507.9L233.1 507.7L235.1 507.4L237.1 507L239.1 506.5L240.9 505.8L242.7 504.8L244.2 503.6L245.7 502.2L247 500.7L248.2 499L249.3 497.4L250.4 495.7L251.4 494L252.4 492.3L253.4 490.5L254.4 488.8L255.5 487.1L256.5 485.4L257.6 483.7L258.6 482L259.8 480.3L260.9 478.7L262.2 477.1L263.5 475.6L264.9 474.2L266.4 472.9L268.1 471.8L269.8 470.8L271.6 469.9L273.4 469L275.2 468.1L276.9 467L278.5 465.9L280 464.6L281.4 463.1L282.7 461.5L283.8 459.9L284.8 458.1L285.7 456.4L286.6 454.6L287.3 452.7L288 450.8L288.7 448.9L289.3 447L289.9 445.1L290.4 443.2L290.9 441.2L291.4 439.3L291.9 437.4L292.4 435.4L292.9 433.5L293.3 431.5L293.7 429.6L294.1 427.6L294.5 425.6L294.9 423.7L295.2 421.7L295.5 419.7L295.8 417.7L296.1 415.8L296.3 413.8L296.5 411.8L296.7 409.8L296.8 407.8L297 405.8L297.1 403.8L297.3 401.8L297.4 399.8L297.6 397.8L297.7 395.8L297.9 393.8L298.1 391.8L298.2 389.8L298.4 387.9L298.6 385.9L298.8 383.9L299 381.9L299.2 379.9L299.4 377.9L299.6 375.9L299.8 373.9L300 371.9L300.2 369.9L300.4 368L300.6 366L300.7 364L300.9 362L301.1 360L301.2 358L301.4 356L301.6 354L301.7 352L301.9 350L302 348L302.2 346L302.3 344L302.5 342L302.6 340L302.8 338.1L302.9 336.1L303.1 334.1L303.2 332.1L303.4 330.1L303.5 328.1L303.7 326.1L303.8 324.1L304 322.1L304.1 320.1L304.3 318.1L304.4 316.1L304.6 314.1L304.7 312.1L304.9 310.1L305 308.1L305.2 306.1L305.4 304.1L305.5 302.2L305.7 300.2L305.8 298.2L306 296.2L306.1 294.2L306.3 292.2L306.4 290.2L306.6 288.2L306.7 286.2L306.9 284.2L307 282.2L307.1 280.2L307.3 278.2L307.4 276.2L307.6 274.2L307.7 272.2L307.8 270.2L307.9 268.2L308.1 266.2L308.2 264.2L308.3 262.2L308.4 260.3L308.6 258.3L308.7 256.3L308.8 254.3L308.9 252.3L309 250.3L309.1 248.3L309.2 246.3L309.4 244.3L309.5 242.3L309.6 240.3L309.7 238.3L309.8 236.3L309.9 234.3L310.1 232.3L310.2 230.3L310.3 228.3L310.4 226.3L310.5 224.3L310.7 222.3L310.8 220.3L310.9 218.3L311 216.3L311.2 214.3L311.3 212.4L311.4 210.4L311.6 208.4L311.7 206.4L311.8 204.4L312 202.4L312.1 200.4L312.3 198.4L312.4 196.4L312.5 194.4L312.7 192.4L312.8 190.4L312.9 188.4L313.1 186.4L313.2 184.4L313.3 182.4L313.5 180.4L313.6 178.4L313.8 176.4L313.9 174.4L314 172.4L314.2 170.4L314.3 168.4L314.4 166.4L314.6 164.4L314.7 162.4L314.8 160.4L315 158.4L315.1 156.4L315.2 154.4L315.3 152.5L315.5 150.5L315.6 148.5L315.7 146.5L315.8 144.6L316 142.6L316.1 140.6L316.2 138.6L316.4 136.7L316.5 134.7L316.6 132.7L316.8 130.7L316.9 128.7L317 126.7L317.2 124.7L317.4 122.7L317.5 120.7L317.7 118.7L317.9 116.6L318 114.6L318.2 112.5L318.4 110.4L318.6 108.3L318.8 106.3L319 104.2L319.2 102.2L319.4 100.2L319.6 98.2L319.9 96.2L320.1 94.3L320.2 92.4L320.4 90.6L320.6 88.9L320.8 87.1L321 85.4L321.2 83.6L321.5 81.7L321.8 79.7L322.2 77.5L322.7 75.2L323.3 72.6L323.9 70.2L324.7 68.4L325.6 67.8L326.5 68.7L327.4 70.8L328.2 73.1L328.8 75.4L329.3 77.6L329.7 79.6L329.9 81.5L330.1 83.3L330.3 85.1L330.5 86.9L330.6 88.7L330.8 90.6L330.9 92.5L331.1 94.4L331.3 96.4L331.5 98.4L331.7 100.4L332 102.5L332.2 104.5L332.4 106.6L332.6 108.6L332.8 110.7L333 112.7L333.2 114.8L333.4 116.8L333.6 118.8L333.7 120.8L333.9 122.8L334.1 124.8L334.2 126.8L334.4 128.8L334.5 130.8L334.7 132.8L334.8 134.7L334.9 136.7L335.1 138.7L335.2 140.7L335.3 142.6L335.5 144.6L335.6 146.6L335.7 148.6L335.9 150.6L336 152.6L336.2 154.5L336.3 156.5L336.5 158.5L336.6 160.5L336.7 162.5L336.9 164.5L337 166.5L337.2 168.5L337.3 170.5L337.5 172.5L337.6 174.5L337.8 176.5L337.9 178.5L338 180.5L338.2 182.5L338.3 184.5L338.5 186.5L338.6 188.5L338.7 190.5L338.9 192.5L339 194.5L339.2 196.5L339.3 198.5L339.4 200.5L339.6 202.5L339.7 204.5L339.9 206.5L340 208.5L340.2 210.5L340.3 212.4L340.5 214.4L340.6 216.4L340.8 218.4L340.9 220.4L341.1 222.4L341.2 224.4L341.4 226.4L341.6 228.4L341.7 230.4L341.9 232.4L342 234.4L342.2 236.4L342.4 238.4L342.5 240.4L342.7 242.3L342.9 244.3L343 246.3L343.2 248.3L343.4 250.3L343.5 252.3L343.7 254.3L343.9 256.3L344 258.3L344.2 260.3L344.3 262.3L344.5 264.3L344.7 266.3L344.8 268.3L345 270.3L345.2 272.2L345.3 274.2L345.5 276.2L345.6 278.2L345.8 280.2L346 282.2L346.1 284.2L346.3 286.2L346.4 288.2L346.6 290.2L346.8 292.2L346.9 294.2L347.1 296.2L347.3 298.2L347.4 300.2L347.6 302.1L347.8 304.1L347.9 306.1L348.1 308.1L348.2 310.1L348.4 312.1L348.6 314.1L348.8 316.1L348.9 318.1L349.1 320.1L349.3 322.1L349.5 324.1L349.6 326.1L349.8 328.1L350 330L350.2 332L350.4 334L350.6 336L350.8 338L351 340L351.1 342L351.3 344L351.5 346L351.7 348L351.9 349.9L352.1 351.9L352.3 353.9L352.6 355.9L352.8 357.9L353 359.9L353.2 361.9L353.4 363.9L353.6 365.9L353.8 367.9L354 369.8L354.2 371.8L354.4 373.8L354.7 375.8L354.9 377.8L355.2 379.8L355.5 381.8L355.8 383.7L356.1 385.7L356.4 387.7L356.8 389.6L357.1 391.6L357.5 393.6L357.9 395.5L358.3 397.5L358.6 399.5L359 401.4L359.4 403.4L359.8 405.4L360.2 407.3L360.7 409.3L361.1 411.2L361.5 413.2L362 415.1L362.4 417.1L362.9 419L363.4 421L363.9 422.9L364.4 424.8L364.9 426.8L365.4 428.7L366 430.6L366.5 432.5L367.1 434.4L367.7 436.4L368.2 438.3L368.8 440.2L369.4 442.1L369.9 444L370.5 446L371.1 447.9L371.7 449.8L372.3 451.7L372.8 453.6L373.5 455.5L374.1 457.4L374.7 459.3L375.3 461.2L376 463.1L376.6 465L377.3 466.9L378 468.8L378.6 470.7L379.3 472.5L380.1 474.4L380.8 476.2L381.6 478.1L382.5 479.9L383.3 481.7L384.3 483.4L385.3 485.2L386.3 486.9L387.4 488.6L388.6 490.2L389.8 491.8L391.2 493.3L392.7 494.6L394.3 495.7L396 496.7L397.8 497.6L399.6 498.6L401.4 499.5L403 500.6L404.7 501.7L406.3 502.9L408 504.1L409.6 505.3L411.3 506.3L413.1 507.2L415 507.8L417 508L419 507.9L420.9 507.5L422.8 506.8L424.6 505.9L426.4 505L428.2 504.1L430 503.3L431.9 502.6L433.8 502.1L435.8 501.8L437.8 501.8L439.8 502.1L441.8 502.5L443.7 503L445.7 503.4L447.7 503.6L449.7 503.7L451.7 503.7L453.7 503.5L455.7 503.5L457.7 503.6L459.6 503.9L461.5 504.4L463.4 505.1L465.3 505.9L467.1 506.8L468.9 507.7L470.6 508.7L472.4 509.6L474.2 510.5L475.9 511.4L477.7 512.3L479.5 513.2L481.3 514.2L483.1 515L484.9 515.8L486.8 516.5L488.7 517L490.7 517.3L492.7 517.5L494.7 517.5L496.7 517.4L498.7 517.3L500.7 517.1L502.7 517L504.7 517L506.7 517.1L508.7 517.3L510.7 517.4L512.7 517.5L514.7 517.5L516.7 517.2L518.6 516.8L520.5 516.2L522.5 515.5L524.4 514.8L526.3 514.2L528.3 513.9L530.2 513.8L532.2 514.2L534.1 515L535.7 516.1L537.1 517.6L538.2 519.2L539.2 521L540.1 522.8L541 524.7L541.8 526.5L542.7 528.3L543.4 530.1L544.2 532L545 533.8L545.8 535.6L546.6 537.4L547.4 539.3L548.2 541.1L549 542.9L549.9 544.7L550.7 546.6L551.6 548.4L552.6 550.1L553.6 551.8L554.8 553.5L556.1 555L557.5 556.4L559.1 557.6L560.8 558.6L562.7 559.4L564.6 559.9L566.6 560.2L568.7 560.4L570.6 560.4L572.5 560.3Z"/>
<path class="gd" clip-path="url(#hc)" stroke-dashoffset="1.4" d="M278.34 47.81V580.24M372.26 47.81V580.24"/>
<path d="M377.4 63.4H401.5" stroke="#006400" stroke-width="1.13" stroke-dasharray="1.13 3.37" stroke-linecap="round" fill="none"/>
<path d="M377.4 78.8H401.5" stroke="#CD2626" stroke-width="1.13" stroke-dasharray="1.13 3.37" stroke-linecap="round" fill="none"/>
<ellipse cx="389" cy="94.5" rx="3.05" ry="2.65" fill="#00f"/>
<text class="g" x="411.9" y="67.8" textLength="130.3" lengthAdjust="spacingAndGlyphs">enrichment zone = 105</text>
<text class="g" x="411.9" y="83.7" textLength="173" lengthAdjust="spacingAndGlyphs">motif score threshold = 78.000</text>
<text class="g" x="411.9" y="98.7" textLength="147.2" lengthAdjust="spacingAndGlyphs">centrality p-val = -23.1704</text>
</g>
<g transform="translate(640,640)">
<rect class="b" x="59.76" y="47.81" width="532.43" height="532.43"/>
<path class="b" d="M146.42 580.24H504.18M146.42 580.24v6M235.86 580.24v6M325.3 580.24v6M414.74 580.24v6M504.18 580.24v6M59.76 560.5V74.2M59.76 560.5h-6M59.76 463.24h-6M59.76 365.98h-6M59.76 268.72h-6M59.76 171.46h-6M59.76 74.2h-6"/>
<text class="k" x="146.42" y="602.04">-400</text>
<text class="k" x="235.86" y="602.04">-200</text>
<text class="k" x="325.3" y="602.04">0</text>
<text class="k" x="414.74" y="602.04">200</text>
<text class="k" x="504.18" y="602.04">400</text>
<text class="k" transform="translate(44.76,561.4) rotate(-90)">0.000</text>
<text class="k" transform="translate(44.76,464.14) rotate(-90)">0.001</text>
<text class="k" transform="translate(44.76,366.88) rotate(-90)">0.002</text>
<text class="k" transform="translate(44.76,269.62) rotate(-90)">0.003</text>
<text class="k" transform="translate(44.76,172.36) rotate(-90)">0.004</text>
<text class="k" transform="translate(44.76,75.1) rotate(-90)">0.005</text>
<text class="t" x="326" y="32" textLength="251.7" lengthAdjust="spacingAndGlyphs">Enrichment zone: 105.00</text>
<text class="l" x="326.1" y="626.3" textLength="173.5" lengthAdjust="spacingAndGlyphs">Distance to peak summit</text>
<text class="l" transform="translate(22.3,314.4) rotate(-90)" textLength="53.6" lengthAdjust="spacingAndGlyphs">Density</text>
</g>
</svg></body></html>
